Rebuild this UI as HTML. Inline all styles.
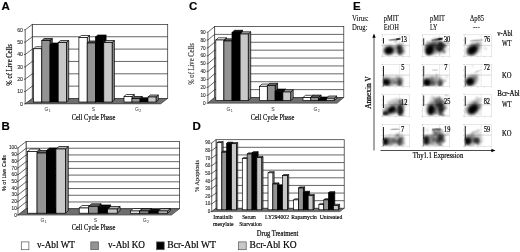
<!DOCTYPE html>
<html><head><meta charset="utf-8"><title>Figure</title>
<style>
html,body{margin:0;padding:0;background:#fff;}
body{width:520px;height:252px;overflow:hidden;font-family:"Liberation Serif",serif;}
svg{display:block}
</style></head><body>
<svg width="520" height="252" viewBox="0 0 520 252">
<rect width="520" height="252" fill="#fff"/>
<filter id="soft" x="0" y="0" width="100%" height="100%" filterUnits="userSpaceOnUse"><feGaussianBlur stdDeviation="0.38"/></filter>
<g filter="url(#soft)">
<rect x="32.3" y="24.4" width="135.4" height="74.1" fill="#fff" stroke="#2a2a2a" stroke-width="0.72"/>
<polygon points="32.3,24.4 25.2,29.8 25.2,103.9 32.3,98.5" fill="#fff" stroke="#2a2a2a" stroke-width="0.72"/>
<polygon points="32.3,98.5 167.7,98.5 160.6,103.9 25.2,103.9" fill="#6e6e6e" stroke="#222" stroke-width="0.5"/>
<line x1="25.2" y1="103.9" x2="24" y2="103.9" stroke="#2a2a2a" stroke-width="0.72"/>
<text x="23" y="105.62" font-family="'Liberation Sans', sans-serif" font-size="5.2" text-anchor="end" font-weight="normal" fill="#111" stroke="#111" stroke-width="0.06" >0</text>
<line x1="32.3" y1="86.15" x2="167.7" y2="86.15" stroke="#2a2a2a" stroke-width="0.72"/>
<line x1="32.3" y1="86.15" x2="25.2" y2="91.55" stroke="#2a2a2a" stroke-width="0.72"/>
<line x1="25.2" y1="91.55" x2="24" y2="91.55" stroke="#2a2a2a" stroke-width="0.72"/>
<text x="23" y="93.27" font-family="'Liberation Sans', sans-serif" font-size="5.2" text-anchor="end" font-weight="normal" fill="#111" stroke="#111" stroke-width="0.06" >10</text>
<line x1="32.3" y1="73.8" x2="167.7" y2="73.8" stroke="#2a2a2a" stroke-width="0.72"/>
<line x1="32.3" y1="73.8" x2="25.2" y2="79.2" stroke="#2a2a2a" stroke-width="0.72"/>
<line x1="25.2" y1="79.2" x2="24" y2="79.2" stroke="#2a2a2a" stroke-width="0.72"/>
<text x="23" y="80.92" font-family="'Liberation Sans', sans-serif" font-size="5.2" text-anchor="end" font-weight="normal" fill="#111" stroke="#111" stroke-width="0.06" >20</text>
<line x1="32.3" y1="61.45" x2="167.7" y2="61.45" stroke="#2a2a2a" stroke-width="0.72"/>
<line x1="32.3" y1="61.45" x2="25.2" y2="66.85" stroke="#2a2a2a" stroke-width="0.72"/>
<line x1="25.2" y1="66.85" x2="24" y2="66.85" stroke="#2a2a2a" stroke-width="0.72"/>
<text x="23" y="68.57" font-family="'Liberation Sans', sans-serif" font-size="5.2" text-anchor="end" font-weight="normal" fill="#111" stroke="#111" stroke-width="0.06" >30</text>
<line x1="32.3" y1="49.1" x2="167.7" y2="49.1" stroke="#2a2a2a" stroke-width="0.72"/>
<line x1="32.3" y1="49.1" x2="25.2" y2="54.5" stroke="#2a2a2a" stroke-width="0.72"/>
<line x1="25.2" y1="54.5" x2="24" y2="54.5" stroke="#2a2a2a" stroke-width="0.72"/>
<text x="23" y="56.22" font-family="'Liberation Sans', sans-serif" font-size="5.2" text-anchor="end" font-weight="normal" fill="#111" stroke="#111" stroke-width="0.06" >40</text>
<line x1="32.3" y1="36.75" x2="167.7" y2="36.75" stroke="#2a2a2a" stroke-width="0.72"/>
<line x1="32.3" y1="36.75" x2="25.2" y2="42.15" stroke="#2a2a2a" stroke-width="0.72"/>
<line x1="25.2" y1="42.15" x2="24" y2="42.15" stroke="#2a2a2a" stroke-width="0.72"/>
<text x="23" y="43.87" font-family="'Liberation Sans', sans-serif" font-size="5.2" text-anchor="end" font-weight="normal" fill="#111" stroke="#111" stroke-width="0.06" >50</text>
<line x1="25.2" y1="29.8" x2="24" y2="29.8" stroke="#2a2a2a" stroke-width="0.72"/>
<text x="23" y="31.52" font-family="'Liberation Sans', sans-serif" font-size="5.2" text-anchor="end" font-weight="normal" fill="#111" stroke="#111" stroke-width="0.06" >60</text>
<polygon points="41.8,48.75 44.1,46.75 44.1,100.0 41.8,102" fill="#bdbdbd" stroke="#000" stroke-width="0.7"/>
<polygon points="33.6,48.75 35.9,46.75 44.1,46.75 41.8,48.75" fill="#ffffff" stroke="#000" stroke-width="0.7"/>
<rect x="33.6" y="48.75" width="8.2" height="53.25" fill="#ffffff" stroke="#000" stroke-width="0.7"/>
<polygon points="50.0,40.5 52.3,38.5 52.3,100.0 50.0,102" fill="#5a5a5a" stroke="#000" stroke-width="0.7"/>
<polygon points="41.8,40.5 44.1,38.5 52.3,38.5 50.0,40.5" fill="#686868" stroke="#000" stroke-width="0.7"/>
<rect x="41.8" y="40.5" width="8.2" height="61.5" fill="#939393" stroke="#000" stroke-width="0.7"/>
<polygon points="58.2,45 60.5,43.0 60.5,100.0 58.2,102" fill="#000000" stroke="#000" stroke-width="0.7"/>
<polygon points="50.0,45 52.3,43.0 60.5,43.0 58.2,45" fill="#0a0a0a" stroke="#000" stroke-width="0.7"/>
<rect x="50.0" y="45" width="8.2" height="57" fill="#000000" stroke="#000" stroke-width="0.7"/>
<polygon points="66.4,42.5 68.7,40.5 68.7,100.0 66.4,102" fill="#8a8a8a" stroke="#000" stroke-width="0.7"/>
<polygon points="58.2,42.5 60.5,40.5 68.7,40.5 66.4,42.5" fill="#b4b4b4" stroke="#000" stroke-width="0.7"/>
<rect x="58.2" y="42.5" width="8.2" height="59.5" fill="#c8c8c8" stroke="#000" stroke-width="0.7"/>
<polygon points="87.2,37.5 89.5,35.5 89.5,100.0 87.2,102" fill="#bdbdbd" stroke="#000" stroke-width="0.7"/>
<polygon points="78.9,37.5 81.2,35.5 89.5,35.5 87.2,37.5" fill="#ffffff" stroke="#000" stroke-width="0.7"/>
<rect x="78.9" y="37.5" width="8.3" height="64.5" fill="#ffffff" stroke="#000" stroke-width="0.7"/>
<polygon points="95.5,43 97.8,41.0 97.8,100.0 95.5,102" fill="#5a5a5a" stroke="#000" stroke-width="0.7"/>
<polygon points="87.2,43 89.5,41.0 97.8,41.0 95.5,43" fill="#686868" stroke="#000" stroke-width="0.7"/>
<rect x="87.2" y="43" width="8.3" height="59" fill="#939393" stroke="#000" stroke-width="0.7"/>
<polygon points="103.8,37 106.1,35.0 106.1,100.0 103.8,102" fill="#000000" stroke="#000" stroke-width="0.7"/>
<polygon points="95.5,37 97.8,35.0 106.1,35.0 103.8,37" fill="#0a0a0a" stroke="#000" stroke-width="0.7"/>
<rect x="95.5" y="37" width="8.3" height="65" fill="#000000" stroke="#000" stroke-width="0.7"/>
<polygon points="112.1,42.5 114.4,40.5 114.4,100.0 112.1,102" fill="#8a8a8a" stroke="#000" stroke-width="0.7"/>
<polygon points="103.8,42.5 106.1,40.5 114.4,40.5 112.1,42.5" fill="#b4b4b4" stroke="#000" stroke-width="0.7"/>
<rect x="103.8" y="42.5" width="8.3" height="59.5" fill="#c8c8c8" stroke="#000" stroke-width="0.7"/>
<polygon points="132.0,96.5 134.3,94.5 134.3,100.0 132.0,102" fill="#bdbdbd" stroke="#000" stroke-width="0.7"/>
<polygon points="124.0,96.5 126.3,94.5 134.3,94.5 132.0,96.5" fill="#ffffff" stroke="#000" stroke-width="0.7"/>
<rect x="124.0" y="96.5" width="8.0" height="5.5" fill="#ffffff" stroke="#000" stroke-width="0.7"/>
<polygon points="140.0,98.5 142.3,96.5 142.3,100.0 140.0,102" fill="#5a5a5a" stroke="#000" stroke-width="0.7"/>
<polygon points="132.0,98.5 134.3,96.5 142.3,96.5 140.0,98.5" fill="#686868" stroke="#000" stroke-width="0.7"/>
<rect x="132.0" y="98.5" width="8.0" height="3.5" fill="#939393" stroke="#000" stroke-width="0.7"/>
<polygon points="148.0,99.7 150.3,97.7 150.3,100.0 148.0,102" fill="#000000" stroke="#000" stroke-width="0.7"/>
<polygon points="140.0,99.7 142.3,97.7 150.3,97.7 148.0,99.7" fill="#0a0a0a" stroke="#000" stroke-width="0.7"/>
<rect x="140.0" y="99.7" width="8.0" height="2.3" fill="#000000" stroke="#000" stroke-width="0.7"/>
<polygon points="156.0,97 158.3,95.0 158.3,100.0 156.0,102" fill="#8a8a8a" stroke="#000" stroke-width="0.7"/>
<polygon points="148.0,97 150.3,95.0 158.3,95.0 156.0,97" fill="#b4b4b4" stroke="#000" stroke-width="0.7"/>
<rect x="148.0" y="97" width="8.0" height="5" fill="#c8c8c8" stroke="#000" stroke-width="0.7"/>
<text x="11.8" y="65" font-family="'Liberation Serif', serif" font-size="7.8" text-anchor="middle" font-weight="normal" fill="#000" textLength="41.5" lengthAdjust="spacingAndGlyphs" transform="rotate(-90 11.8 65)" stroke="#000" stroke-width="0.18" >% of Live Cells</text>
<text x="46.5" y="110.8" font-family="'Liberation Sans', sans-serif" font-size="5" text-anchor="middle" font-weight="normal" fill="#333" stroke="#333" stroke-width="0" >G</text>
<text x="49.7" y="111.8" font-family="'Liberation Sans', sans-serif" font-size="3.5" text-anchor="middle" font-weight="normal" fill="#333" stroke="#333" stroke-width="0" >1</text>
<text x="93.5" y="110.8" font-family="'Liberation Sans', sans-serif" font-size="5" text-anchor="middle" font-weight="normal" fill="#333" stroke="#333" stroke-width="0" >S</text>
<text x="137" y="110.8" font-family="'Liberation Sans', sans-serif" font-size="5" text-anchor="middle" font-weight="normal" fill="#333" stroke="#333" stroke-width="0" >G</text>
<text x="140.2" y="111.8" font-family="'Liberation Sans', sans-serif" font-size="3.5" text-anchor="middle" font-weight="normal" fill="#333" stroke="#333" stroke-width="0" >2</text>
<text x="93.5" y="119.7" font-family="'Liberation Serif', serif" font-size="7.5" text-anchor="middle" font-weight="normal" fill="#000" textLength="43.5" lengthAdjust="spacingAndGlyphs" stroke="#000" stroke-width="0.18" >Cell Cycle Phase</text>
<text x="1.5" y="10.3" font-family="'Liberation Sans', sans-serif" font-size="11.5" text-anchor="start" font-weight="bold" fill="#000" stroke="#000" stroke-width="0.18" >A</text>
<rect x="26.1" y="141.5" width="153.5" height="67.2" fill="#fff" stroke="#2a2a2a" stroke-width="0.72"/>
<polygon points="26.1,141.5 18.0,147.9 18.0,215.1 26.1,208.7" fill="#fff" stroke="#2a2a2a" stroke-width="0.72"/>
<polygon points="26.1,208.7 179.6,208.7 171.5,215.1 18.0,215.1" fill="#6e6e6e" stroke="#222" stroke-width="0.5"/>
<line x1="18.0" y1="215.1" x2="16.8" y2="215.1" stroke="#2a2a2a" stroke-width="0.72"/>
<text x="16.8" y="216.65" font-family="'Liberation Sans', sans-serif" font-size="4.7" text-anchor="end" font-weight="normal" fill="#111" stroke="#111" stroke-width="0.06" >0</text>
<line x1="26.1" y1="201.98" x2="179.6" y2="201.98" stroke="#2a2a2a" stroke-width="0.72"/>
<line x1="26.1" y1="201.98" x2="18.0" y2="208.38" stroke="#2a2a2a" stroke-width="0.72"/>
<line x1="18.0" y1="208.38" x2="16.8" y2="208.38" stroke="#2a2a2a" stroke-width="0.72"/>
<text x="16.8" y="209.93" font-family="'Liberation Sans', sans-serif" font-size="4.7" text-anchor="end" font-weight="normal" fill="#111" stroke="#111" stroke-width="0.06" >10</text>
<line x1="26.1" y1="195.26" x2="179.6" y2="195.26" stroke="#2a2a2a" stroke-width="0.72"/>
<line x1="26.1" y1="195.26" x2="18.0" y2="201.66" stroke="#2a2a2a" stroke-width="0.72"/>
<line x1="18.0" y1="201.66" x2="16.8" y2="201.66" stroke="#2a2a2a" stroke-width="0.72"/>
<text x="16.8" y="203.21" font-family="'Liberation Sans', sans-serif" font-size="4.7" text-anchor="end" font-weight="normal" fill="#111" stroke="#111" stroke-width="0.06" >20</text>
<line x1="26.1" y1="188.54" x2="179.6" y2="188.54" stroke="#2a2a2a" stroke-width="0.72"/>
<line x1="26.1" y1="188.54" x2="18.0" y2="194.94" stroke="#2a2a2a" stroke-width="0.72"/>
<line x1="18.0" y1="194.94" x2="16.8" y2="194.94" stroke="#2a2a2a" stroke-width="0.72"/>
<text x="16.8" y="196.49" font-family="'Liberation Sans', sans-serif" font-size="4.7" text-anchor="end" font-weight="normal" fill="#111" stroke="#111" stroke-width="0.06" >30</text>
<line x1="26.1" y1="181.82" x2="179.6" y2="181.82" stroke="#2a2a2a" stroke-width="0.72"/>
<line x1="26.1" y1="181.82" x2="18.0" y2="188.22" stroke="#2a2a2a" stroke-width="0.72"/>
<line x1="18.0" y1="188.22" x2="16.8" y2="188.22" stroke="#2a2a2a" stroke-width="0.72"/>
<text x="16.8" y="189.77" font-family="'Liberation Sans', sans-serif" font-size="4.7" text-anchor="end" font-weight="normal" fill="#111" stroke="#111" stroke-width="0.06" >40</text>
<line x1="26.1" y1="175.1" x2="179.6" y2="175.1" stroke="#2a2a2a" stroke-width="0.72"/>
<line x1="26.1" y1="175.1" x2="18.0" y2="181.5" stroke="#2a2a2a" stroke-width="0.72"/>
<line x1="18.0" y1="181.5" x2="16.8" y2="181.5" stroke="#2a2a2a" stroke-width="0.72"/>
<text x="16.8" y="183.05" font-family="'Liberation Sans', sans-serif" font-size="4.7" text-anchor="end" font-weight="normal" fill="#111" stroke="#111" stroke-width="0.06" >50</text>
<line x1="26.1" y1="168.38" x2="179.6" y2="168.38" stroke="#2a2a2a" stroke-width="0.72"/>
<line x1="26.1" y1="168.38" x2="18.0" y2="174.78" stroke="#2a2a2a" stroke-width="0.72"/>
<line x1="18.0" y1="174.78" x2="16.8" y2="174.78" stroke="#2a2a2a" stroke-width="0.72"/>
<text x="16.8" y="176.33" font-family="'Liberation Sans', sans-serif" font-size="4.7" text-anchor="end" font-weight="normal" fill="#111" stroke="#111" stroke-width="0.06" >60</text>
<line x1="26.1" y1="161.66" x2="179.6" y2="161.66" stroke="#2a2a2a" stroke-width="0.72"/>
<line x1="26.1" y1="161.66" x2="18.0" y2="168.06" stroke="#2a2a2a" stroke-width="0.72"/>
<line x1="18.0" y1="168.06" x2="16.8" y2="168.06" stroke="#2a2a2a" stroke-width="0.72"/>
<text x="16.8" y="169.61" font-family="'Liberation Sans', sans-serif" font-size="4.7" text-anchor="end" font-weight="normal" fill="#111" stroke="#111" stroke-width="0.06" >70</text>
<line x1="26.1" y1="154.94" x2="179.6" y2="154.94" stroke="#2a2a2a" stroke-width="0.72"/>
<line x1="26.1" y1="154.94" x2="18.0" y2="161.34" stroke="#2a2a2a" stroke-width="0.72"/>
<line x1="18.0" y1="161.34" x2="16.8" y2="161.34" stroke="#2a2a2a" stroke-width="0.72"/>
<text x="16.8" y="162.89" font-family="'Liberation Sans', sans-serif" font-size="4.7" text-anchor="end" font-weight="normal" fill="#111" stroke="#111" stroke-width="0.06" >80</text>
<line x1="26.1" y1="148.22" x2="179.6" y2="148.22" stroke="#2a2a2a" stroke-width="0.72"/>
<line x1="26.1" y1="148.22" x2="18.0" y2="154.62" stroke="#2a2a2a" stroke-width="0.72"/>
<line x1="18.0" y1="154.62" x2="16.8" y2="154.62" stroke="#2a2a2a" stroke-width="0.72"/>
<text x="16.8" y="156.17" font-family="'Liberation Sans', sans-serif" font-size="4.7" text-anchor="end" font-weight="normal" fill="#111" stroke="#111" stroke-width="0.06" >90</text>
<line x1="18.0" y1="147.9" x2="16.8" y2="147.9" stroke="#2a2a2a" stroke-width="0.72"/>
<text x="16.8" y="149.45" font-family="'Liberation Sans', sans-serif" font-size="4.7" text-anchor="end" font-weight="normal" fill="#111" stroke="#111" stroke-width="0.06" >100</text>
<polygon points="37.05,151.5 39.95,149.0 39.95,210.7 37.05,213.2" fill="#bdbdbd" stroke="#000" stroke-width="0.7"/>
<polygon points="27.6,151.5 30.5,149.0 39.95,149.0 37.05,151.5" fill="#ffffff" stroke="#000" stroke-width="0.7"/>
<rect x="27.6" y="151.5" width="9.45" height="61.7" fill="#ffffff" stroke="#000" stroke-width="0.7"/>
<polygon points="46.5,153 49.4,150.5 49.4,210.7 46.5,213.2" fill="#5a5a5a" stroke="#000" stroke-width="0.7"/>
<polygon points="37.05,153 39.95,150.5 49.4,150.5 46.5,153" fill="#686868" stroke="#000" stroke-width="0.7"/>
<rect x="37.05" y="153" width="9.45" height="60.2" fill="#939393" stroke="#000" stroke-width="0.7"/>
<polygon points="55.95,150.5 58.85,148.0 58.85,210.7 55.95,213.2" fill="#000000" stroke="#000" stroke-width="0.7"/>
<polygon points="46.5,150.5 49.4,148.0 58.85,148.0 55.95,150.5" fill="#0a0a0a" stroke="#000" stroke-width="0.7"/>
<rect x="46.5" y="150.5" width="9.45" height="62.7" fill="#000000" stroke="#000" stroke-width="0.7"/>
<polygon points="65.4,149 68.3,146.5 68.3,210.7 65.4,213.2" fill="#8a8a8a" stroke="#000" stroke-width="0.7"/>
<polygon points="55.95,149 58.85,146.5 68.3,146.5 65.4,149" fill="#b4b4b4" stroke="#000" stroke-width="0.7"/>
<rect x="55.95" y="149" width="9.45" height="64.2" fill="#c8c8c8" stroke="#000" stroke-width="0.7"/>
<polygon points="88.7,208 91.6,205.5 91.6,210.7 88.7,213.2" fill="#bdbdbd" stroke="#000" stroke-width="0.7"/>
<polygon points="79.2,208 82.1,205.5 91.6,205.5 88.7,208" fill="#ffffff" stroke="#000" stroke-width="0.7"/>
<rect x="79.2" y="208" width="9.5" height="5.2" fill="#ffffff" stroke="#000" stroke-width="0.7"/>
<polygon points="98.2,206.3 101.1,203.8 101.1,210.7 98.2,213.2" fill="#5a5a5a" stroke="#000" stroke-width="0.7"/>
<polygon points="88.7,206.3 91.6,203.8 101.1,203.8 98.2,206.3" fill="#686868" stroke="#000" stroke-width="0.7"/>
<rect x="88.7" y="206.3" width="9.5" height="6.9" fill="#939393" stroke="#000" stroke-width="0.7"/>
<polygon points="107.7,207.5 110.6,205.0 110.6,210.7 107.7,213.2" fill="#000000" stroke="#000" stroke-width="0.7"/>
<polygon points="98.2,207.5 101.1,205.0 110.6,205.0 107.7,207.5" fill="#0a0a0a" stroke="#000" stroke-width="0.7"/>
<rect x="98.2" y="207.5" width="9.5" height="5.7" fill="#000000" stroke="#000" stroke-width="0.7"/>
<polygon points="117.2,209 120.1,206.5 120.1,210.7 117.2,213.2" fill="#8a8a8a" stroke="#000" stroke-width="0.7"/>
<polygon points="107.7,209 110.6,206.5 120.1,206.5 117.2,209" fill="#b4b4b4" stroke="#000" stroke-width="0.7"/>
<rect x="107.7" y="209" width="9.5" height="4.2" fill="#c8c8c8" stroke="#000" stroke-width="0.7"/>
<polygon points="139.6,211 142.5,208.5 142.5,210.7 139.6,213.2" fill="#bdbdbd" stroke="#000" stroke-width="0.7"/>
<polygon points="130.3,211 133.2,208.5 142.5,208.5 139.6,211" fill="#ffffff" stroke="#000" stroke-width="0.7"/>
<rect x="130.3" y="211" width="9.3" height="2.2" fill="#ffffff" stroke="#000" stroke-width="0.7"/>
<polygon points="148.9,211 151.8,208.5 151.8,210.7 148.9,213.2" fill="#5a5a5a" stroke="#000" stroke-width="0.7"/>
<polygon points="139.6,211 142.5,208.5 151.8,208.5 148.9,211" fill="#686868" stroke="#000" stroke-width="0.7"/>
<rect x="139.6" y="211" width="9.3" height="2.2" fill="#939393" stroke="#000" stroke-width="0.7"/>
<polygon points="158.2,212 161.1,209.5 161.1,210.7 158.2,213.2" fill="#000000" stroke="#000" stroke-width="0.7"/>
<polygon points="148.9,212 151.8,209.5 161.1,209.5 158.2,212" fill="#0a0a0a" stroke="#000" stroke-width="0.7"/>
<rect x="148.9" y="212" width="9.3" height="1.2" fill="#000000" stroke="#000" stroke-width="0.7"/>
<polygon points="167.5,211 170.4,208.5 170.4,210.7 167.5,213.2" fill="#8a8a8a" stroke="#000" stroke-width="0.7"/>
<polygon points="158.2,211 161.1,208.5 170.4,208.5 167.5,211" fill="#b4b4b4" stroke="#000" stroke-width="0.7"/>
<rect x="158.2" y="211" width="9.3" height="2.2" fill="#c8c8c8" stroke="#000" stroke-width="0.7"/>
<text x="6" y="173" font-family="'Liberation Sans', sans-serif" font-size="5.4" text-anchor="middle" font-weight="normal" fill="#000" textLength="36" lengthAdjust="spacingAndGlyphs" transform="rotate(-90 6 173)" stroke="#000" stroke-width="0.1" >% of Live Cells</text>
<text x="42.5" y="221.8" font-family="'Liberation Sans', sans-serif" font-size="5" text-anchor="middle" font-weight="normal" fill="#333" stroke="#333" stroke-width="0" >G</text>
<text x="45.7" y="222.8" font-family="'Liberation Sans', sans-serif" font-size="3.5" text-anchor="middle" font-weight="normal" fill="#333" stroke="#333" stroke-width="0" >1</text>
<text x="95.4" y="221.8" font-family="'Liberation Sans', sans-serif" font-size="5" text-anchor="middle" font-weight="normal" fill="#333" stroke="#333" stroke-width="0" >S</text>
<text x="144.7" y="221.8" font-family="'Liberation Sans', sans-serif" font-size="5" text-anchor="middle" font-weight="normal" fill="#333" stroke="#333" stroke-width="0" >G</text>
<text x="147.9" y="222.8" font-family="'Liberation Sans', sans-serif" font-size="3.5" text-anchor="middle" font-weight="normal" fill="#333" stroke="#333" stroke-width="0" >2</text>
<text x="93.5" y="230" font-family="'Liberation Serif', serif" font-size="7.5" text-anchor="middle" font-weight="normal" fill="#000" textLength="43.5" lengthAdjust="spacingAndGlyphs" stroke="#000" stroke-width="0.18" >Cell Cycle Phase</text>
<text x="1.5" y="130.3" font-family="'Liberation Sans', sans-serif" font-size="11.5" text-anchor="start" font-weight="bold" fill="#000" stroke="#000" stroke-width="0.18" >B</text>
<rect x="214.6" y="26.5" width="129.2" height="71.0" fill="#fff" stroke="#2a2a2a" stroke-width="0.72"/>
<polygon points="214.6,26.5 207.9,32.2 207.9,103.2 214.6,97.5" fill="#fff" stroke="#2a2a2a" stroke-width="0.72"/>
<polygon points="214.6,97.5 343.8,97.5 337.1,103.2 207.9,103.2" fill="#6e6e6e" stroke="#222" stroke-width="0.5"/>
<line x1="207.9" y1="103.2" x2="206.7" y2="103.2" stroke="#2a2a2a" stroke-width="0.72"/>
<text x="205.7" y="104.75" font-family="'Liberation Sans', sans-serif" font-size="4.7" text-anchor="end" font-weight="normal" fill="#111" stroke="#111" stroke-width="0.06" >0</text>
<line x1="214.6" y1="89.61" x2="343.8" y2="89.61" stroke="#2a2a2a" stroke-width="0.72"/>
<line x1="214.6" y1="89.61" x2="207.9" y2="95.31" stroke="#2a2a2a" stroke-width="0.72"/>
<line x1="207.9" y1="95.31" x2="206.7" y2="95.31" stroke="#2a2a2a" stroke-width="0.72"/>
<text x="205.7" y="96.86" font-family="'Liberation Sans', sans-serif" font-size="4.7" text-anchor="end" font-weight="normal" fill="#111" stroke="#111" stroke-width="0.06" >10</text>
<line x1="214.6" y1="81.72" x2="343.8" y2="81.72" stroke="#2a2a2a" stroke-width="0.72"/>
<line x1="214.6" y1="81.72" x2="207.9" y2="87.42" stroke="#2a2a2a" stroke-width="0.72"/>
<line x1="207.9" y1="87.42" x2="206.7" y2="87.42" stroke="#2a2a2a" stroke-width="0.72"/>
<text x="205.7" y="88.97" font-family="'Liberation Sans', sans-serif" font-size="4.7" text-anchor="end" font-weight="normal" fill="#111" stroke="#111" stroke-width="0.06" >20</text>
<line x1="214.6" y1="73.83" x2="343.8" y2="73.83" stroke="#2a2a2a" stroke-width="0.72"/>
<line x1="214.6" y1="73.83" x2="207.9" y2="79.53" stroke="#2a2a2a" stroke-width="0.72"/>
<line x1="207.9" y1="79.53" x2="206.7" y2="79.53" stroke="#2a2a2a" stroke-width="0.72"/>
<text x="205.7" y="81.08" font-family="'Liberation Sans', sans-serif" font-size="4.7" text-anchor="end" font-weight="normal" fill="#111" stroke="#111" stroke-width="0.06" >30</text>
<line x1="214.6" y1="65.94" x2="343.8" y2="65.94" stroke="#2a2a2a" stroke-width="0.72"/>
<line x1="214.6" y1="65.94" x2="207.9" y2="71.64" stroke="#2a2a2a" stroke-width="0.72"/>
<line x1="207.9" y1="71.64" x2="206.7" y2="71.64" stroke="#2a2a2a" stroke-width="0.72"/>
<text x="205.7" y="73.2" font-family="'Liberation Sans', sans-serif" font-size="4.7" text-anchor="end" font-weight="normal" fill="#111" stroke="#111" stroke-width="0.06" >40</text>
<line x1="214.6" y1="58.06" x2="343.8" y2="58.06" stroke="#2a2a2a" stroke-width="0.72"/>
<line x1="214.6" y1="58.06" x2="207.9" y2="63.76" stroke="#2a2a2a" stroke-width="0.72"/>
<line x1="207.9" y1="63.76" x2="206.7" y2="63.76" stroke="#2a2a2a" stroke-width="0.72"/>
<text x="205.7" y="65.31" font-family="'Liberation Sans', sans-serif" font-size="4.7" text-anchor="end" font-weight="normal" fill="#111" stroke="#111" stroke-width="0.06" >50</text>
<line x1="214.6" y1="50.17" x2="343.8" y2="50.17" stroke="#2a2a2a" stroke-width="0.72"/>
<line x1="214.6" y1="50.17" x2="207.9" y2="55.87" stroke="#2a2a2a" stroke-width="0.72"/>
<line x1="207.9" y1="55.87" x2="206.7" y2="55.87" stroke="#2a2a2a" stroke-width="0.72"/>
<text x="205.7" y="57.42" font-family="'Liberation Sans', sans-serif" font-size="4.7" text-anchor="end" font-weight="normal" fill="#111" stroke="#111" stroke-width="0.06" >60</text>
<line x1="214.6" y1="42.28" x2="343.8" y2="42.28" stroke="#2a2a2a" stroke-width="0.72"/>
<line x1="214.6" y1="42.28" x2="207.9" y2="47.98" stroke="#2a2a2a" stroke-width="0.72"/>
<line x1="207.9" y1="47.98" x2="206.7" y2="47.98" stroke="#2a2a2a" stroke-width="0.72"/>
<text x="205.7" y="49.53" font-family="'Liberation Sans', sans-serif" font-size="4.7" text-anchor="end" font-weight="normal" fill="#111" stroke="#111" stroke-width="0.06" >70</text>
<line x1="214.6" y1="34.39" x2="343.8" y2="34.39" stroke="#2a2a2a" stroke-width="0.72"/>
<line x1="214.6" y1="34.39" x2="207.9" y2="40.09" stroke="#2a2a2a" stroke-width="0.72"/>
<line x1="207.9" y1="40.09" x2="206.7" y2="40.09" stroke="#2a2a2a" stroke-width="0.72"/>
<text x="205.7" y="41.64" font-family="'Liberation Sans', sans-serif" font-size="4.7" text-anchor="end" font-weight="normal" fill="#111" stroke="#111" stroke-width="0.06" >80</text>
<line x1="207.9" y1="32.2" x2="206.7" y2="32.2" stroke="#2a2a2a" stroke-width="0.72"/>
<text x="205.7" y="33.75" font-family="'Liberation Sans', sans-serif" font-size="4.7" text-anchor="end" font-weight="normal" fill="#111" stroke="#111" stroke-width="0.06" >90</text>
<polygon points="223.9,40 226.4,37.8 226.4,98.4 223.9,100.6" fill="#bdbdbd" stroke="#000" stroke-width="0.7"/>
<polygon points="215.8,40 218.3,37.8 226.4,37.8 223.9,40" fill="#ffffff" stroke="#000" stroke-width="0.7"/>
<rect x="215.8" y="40" width="8.1" height="60.6" fill="#ffffff" stroke="#000" stroke-width="0.7"/>
<polygon points="232.0,41 234.5,38.8 234.5,98.4 232.0,100.6" fill="#5a5a5a" stroke="#000" stroke-width="0.7"/>
<polygon points="223.9,41 226.4,38.8 234.5,38.8 232.0,41" fill="#686868" stroke="#000" stroke-width="0.7"/>
<rect x="223.9" y="41" width="8.1" height="59.6" fill="#939393" stroke="#000" stroke-width="0.7"/>
<polygon points="240.1,32.5 242.6,30.3 242.6,98.4 240.1,100.6" fill="#000000" stroke="#000" stroke-width="0.7"/>
<polygon points="232.0,32.5 234.5,30.3 242.6,30.3 240.1,32.5" fill="#0a0a0a" stroke="#000" stroke-width="0.7"/>
<rect x="232.0" y="32.5" width="8.1" height="68.1" fill="#000000" stroke="#000" stroke-width="0.7"/>
<polygon points="248.2,34 250.7,31.8 250.7,98.4 248.2,100.6" fill="#8a8a8a" stroke="#000" stroke-width="0.7"/>
<polygon points="240.1,34 242.6,31.8 250.7,31.8 248.2,34" fill="#b4b4b4" stroke="#000" stroke-width="0.7"/>
<rect x="240.1" y="34" width="8.1" height="66.6" fill="#c8c8c8" stroke="#000" stroke-width="0.7"/>
<polygon points="267.3,86.3 269.8,84.1 269.8,98.4 267.3,100.6" fill="#bdbdbd" stroke="#000" stroke-width="0.7"/>
<polygon points="259.5,86.3 262.0,84.1 269.8,84.1 267.3,86.3" fill="#ffffff" stroke="#000" stroke-width="0.7"/>
<rect x="259.5" y="86.3" width="7.8" height="14.3" fill="#ffffff" stroke="#000" stroke-width="0.7"/>
<polygon points="275.1,85.5 277.6,83.3 277.6,98.4 275.1,100.6" fill="#5a5a5a" stroke="#000" stroke-width="0.7"/>
<polygon points="267.3,85.5 269.8,83.3 277.6,83.3 275.1,85.5" fill="#686868" stroke="#000" stroke-width="0.7"/>
<rect x="267.3" y="85.5" width="7.8" height="15.1" fill="#939393" stroke="#000" stroke-width="0.7"/>
<polygon points="282.9,91.3 285.4,89.1 285.4,98.4 282.9,100.6" fill="#000000" stroke="#000" stroke-width="0.7"/>
<polygon points="275.1,91.3 277.6,89.1 285.4,89.1 282.9,91.3" fill="#0a0a0a" stroke="#000" stroke-width="0.7"/>
<rect x="275.1" y="91.3" width="7.8" height="9.3" fill="#000000" stroke="#000" stroke-width="0.7"/>
<polygon points="290.7,92 293.2,89.8 293.2,98.4 290.7,100.6" fill="#8a8a8a" stroke="#000" stroke-width="0.7"/>
<polygon points="282.9,92 285.4,89.8 293.2,89.8 290.7,92" fill="#b4b4b4" stroke="#000" stroke-width="0.7"/>
<rect x="282.9" y="92" width="7.8" height="8.6" fill="#c8c8c8" stroke="#000" stroke-width="0.7"/>
<polygon points="310.8,97.5 313.3,95.3 313.3,98.4 310.8,100.6" fill="#bdbdbd" stroke="#000" stroke-width="0.7"/>
<polygon points="303.0,97.5 305.5,95.3 313.3,95.3 310.8,97.5" fill="#ffffff" stroke="#000" stroke-width="0.7"/>
<rect x="303.0" y="97.5" width="7.8" height="3.1" fill="#ffffff" stroke="#000" stroke-width="0.7"/>
<polygon points="318.6,97.3 321.1,95.1 321.1,98.4 318.6,100.6" fill="#5a5a5a" stroke="#000" stroke-width="0.7"/>
<polygon points="310.8,97.3 313.3,95.1 321.1,95.1 318.6,97.3" fill="#686868" stroke="#000" stroke-width="0.7"/>
<rect x="310.8" y="97.3" width="7.8" height="3.3" fill="#939393" stroke="#000" stroke-width="0.7"/>
<polygon points="326.4,99.2 328.9,97.0 328.9,98.4 326.4,100.6" fill="#000000" stroke="#000" stroke-width="0.7"/>
<polygon points="318.6,99.2 321.1,97.0 328.9,97.0 326.4,99.2" fill="#0a0a0a" stroke="#000" stroke-width="0.7"/>
<rect x="318.6" y="99.2" width="7.8" height="1.4" fill="#000000" stroke="#000" stroke-width="0.7"/>
<polygon points="334.2,98.2 336.7,96.0 336.7,98.4 334.2,100.6" fill="#8a8a8a" stroke="#000" stroke-width="0.7"/>
<polygon points="326.4,98.2 328.9,96.0 336.7,96.0 334.2,98.2" fill="#b4b4b4" stroke="#000" stroke-width="0.7"/>
<rect x="326.4" y="98.2" width="7.8" height="2.4" fill="#c8c8c8" stroke="#000" stroke-width="0.7"/>
<text x="193.6" y="64" font-family="'Liberation Serif', serif" font-size="7.8" text-anchor="middle" font-weight="normal" fill="#444" textLength="41.5" lengthAdjust="spacingAndGlyphs" transform="rotate(-90 193.6 64)" stroke="#444" stroke-width="0.18" >% of Live Cells</text>
<text x="228.5" y="110.8" font-family="'Liberation Sans', sans-serif" font-size="5" text-anchor="middle" font-weight="normal" fill="#333" stroke="#333" stroke-width="0" >G</text>
<text x="231.7" y="111.8" font-family="'Liberation Sans', sans-serif" font-size="3.5" text-anchor="middle" font-weight="normal" fill="#333" stroke="#333" stroke-width="0" >1</text>
<text x="273" y="110.8" font-family="'Liberation Sans', sans-serif" font-size="5" text-anchor="middle" font-weight="normal" fill="#333" stroke="#333" stroke-width="0" >S</text>
<text x="315.5" y="110.8" font-family="'Liberation Sans', sans-serif" font-size="5" text-anchor="middle" font-weight="normal" fill="#333" stroke="#333" stroke-width="0" >G</text>
<text x="318.7" y="111.8" font-family="'Liberation Sans', sans-serif" font-size="3.5" text-anchor="middle" font-weight="normal" fill="#333" stroke="#333" stroke-width="0" >2</text>
<text x="272.5" y="119.7" font-family="'Liberation Serif', serif" font-size="7.5" text-anchor="middle" font-weight="normal" fill="#000" textLength="43.5" lengthAdjust="spacingAndGlyphs" stroke="#000" stroke-width="0.18" >Cell Cycle Phase</text>
<text x="189" y="10.3" font-family="'Liberation Sans', sans-serif" font-size="11.5" text-anchor="start" font-weight="bold" fill="#000" stroke="#000" stroke-width="0.18" >C</text>
<rect x="216" y="139.7" width="128.2" height="68.6" fill="#fff" stroke="#2a2a2a" stroke-width="0.72"/>
<polygon points="216,139.7 211.7,143.0 211.7,211.6 216,208.3" fill="#fff" stroke="#2a2a2a" stroke-width="0.72"/>
<polygon points="216,208.3 344.2,208.3 339.9,211.6 211.7,211.6" fill="#6e6e6e" stroke="#222" stroke-width="0.5"/>
<line x1="211.7" y1="211.6" x2="210.5" y2="211.6" stroke="#2a2a2a" stroke-width="0.72"/>
<text x="210.2" y="213.09" font-family="'Liberation Sans', sans-serif" font-size="4.5" text-anchor="end" font-weight="normal" fill="#111" stroke="#111" stroke-width="0.06" >0</text>
<line x1="216" y1="200.68" x2="344.2" y2="200.68" stroke="#2a2a2a" stroke-width="0.72"/>
<line x1="216" y1="200.68" x2="211.7" y2="203.98" stroke="#2a2a2a" stroke-width="0.72"/>
<line x1="211.7" y1="203.98" x2="210.5" y2="203.98" stroke="#2a2a2a" stroke-width="0.72"/>
<text x="210.2" y="205.46" font-family="'Liberation Sans', sans-serif" font-size="4.5" text-anchor="end" font-weight="normal" fill="#111" stroke="#111" stroke-width="0.06" >10</text>
<line x1="216" y1="193.06" x2="344.2" y2="193.06" stroke="#2a2a2a" stroke-width="0.72"/>
<line x1="216" y1="193.06" x2="211.7" y2="196.36" stroke="#2a2a2a" stroke-width="0.72"/>
<line x1="211.7" y1="196.36" x2="210.5" y2="196.36" stroke="#2a2a2a" stroke-width="0.72"/>
<text x="210.2" y="197.84" font-family="'Liberation Sans', sans-serif" font-size="4.5" text-anchor="end" font-weight="normal" fill="#111" stroke="#111" stroke-width="0.06" >20</text>
<line x1="216" y1="185.43" x2="344.2" y2="185.43" stroke="#2a2a2a" stroke-width="0.72"/>
<line x1="216" y1="185.43" x2="211.7" y2="188.73" stroke="#2a2a2a" stroke-width="0.72"/>
<line x1="211.7" y1="188.73" x2="210.5" y2="188.73" stroke="#2a2a2a" stroke-width="0.72"/>
<text x="210.2" y="190.22" font-family="'Liberation Sans', sans-serif" font-size="4.5" text-anchor="end" font-weight="normal" fill="#111" stroke="#111" stroke-width="0.06" >30</text>
<line x1="216" y1="177.81" x2="344.2" y2="177.81" stroke="#2a2a2a" stroke-width="0.72"/>
<line x1="216" y1="177.81" x2="211.7" y2="181.11" stroke="#2a2a2a" stroke-width="0.72"/>
<line x1="211.7" y1="181.11" x2="210.5" y2="181.11" stroke="#2a2a2a" stroke-width="0.72"/>
<text x="210.2" y="182.6" font-family="'Liberation Sans', sans-serif" font-size="4.5" text-anchor="end" font-weight="normal" fill="#111" stroke="#111" stroke-width="0.06" >40</text>
<line x1="216" y1="170.19" x2="344.2" y2="170.19" stroke="#2a2a2a" stroke-width="0.72"/>
<line x1="216" y1="170.19" x2="211.7" y2="173.49" stroke="#2a2a2a" stroke-width="0.72"/>
<line x1="211.7" y1="173.49" x2="210.5" y2="173.49" stroke="#2a2a2a" stroke-width="0.72"/>
<text x="210.2" y="174.97" font-family="'Liberation Sans', sans-serif" font-size="4.5" text-anchor="end" font-weight="normal" fill="#111" stroke="#111" stroke-width="0.06" >50</text>
<line x1="216" y1="162.57" x2="344.2" y2="162.57" stroke="#2a2a2a" stroke-width="0.72"/>
<line x1="216" y1="162.57" x2="211.7" y2="165.87" stroke="#2a2a2a" stroke-width="0.72"/>
<line x1="211.7" y1="165.87" x2="210.5" y2="165.87" stroke="#2a2a2a" stroke-width="0.72"/>
<text x="210.2" y="167.35" font-family="'Liberation Sans', sans-serif" font-size="4.5" text-anchor="end" font-weight="normal" fill="#111" stroke="#111" stroke-width="0.06" >60</text>
<line x1="216" y1="154.94" x2="344.2" y2="154.94" stroke="#2a2a2a" stroke-width="0.72"/>
<line x1="216" y1="154.94" x2="211.7" y2="158.24" stroke="#2a2a2a" stroke-width="0.72"/>
<line x1="211.7" y1="158.24" x2="210.5" y2="158.24" stroke="#2a2a2a" stroke-width="0.72"/>
<text x="210.2" y="159.73" font-family="'Liberation Sans', sans-serif" font-size="4.5" text-anchor="end" font-weight="normal" fill="#111" stroke="#111" stroke-width="0.06" >70</text>
<line x1="216" y1="147.32" x2="344.2" y2="147.32" stroke="#2a2a2a" stroke-width="0.72"/>
<line x1="216" y1="147.32" x2="211.7" y2="150.62" stroke="#2a2a2a" stroke-width="0.72"/>
<line x1="211.7" y1="150.62" x2="210.5" y2="150.62" stroke="#2a2a2a" stroke-width="0.72"/>
<text x="210.2" y="152.11" font-family="'Liberation Sans', sans-serif" font-size="4.5" text-anchor="end" font-weight="normal" fill="#111" stroke="#111" stroke-width="0.06" >80</text>
<line x1="211.7" y1="143.0" x2="210.5" y2="143.0" stroke="#2a2a2a" stroke-width="0.72"/>
<text x="210.2" y="144.49" font-family="'Liberation Sans', sans-serif" font-size="4.5" text-anchor="end" font-weight="normal" fill="#111" stroke="#111" stroke-width="0.06" >90</text>
<polygon points="221.85,142.7 223.15,141.6 223.15,208.7 221.85,209.8" fill="#bdbdbd" stroke="#000" stroke-width="0.7"/>
<polygon points="217.0,142.7 218.3,141.6 223.15,141.6 221.85,142.7" fill="#ffffff" stroke="#000" stroke-width="0.7"/>
<rect x="217.0" y="142.7" width="4.85" height="67.1" fill="#ffffff" stroke="#000" stroke-width="0.7"/>
<polygon points="226.7,152.2 228.0,151.1 228.0,208.7 226.7,209.8" fill="#5a5a5a" stroke="#000" stroke-width="0.7"/>
<polygon points="221.85,152.2 223.15,151.1 228.0,151.1 226.7,152.2" fill="#686868" stroke="#000" stroke-width="0.7"/>
<rect x="221.85" y="152.2" width="4.85" height="57.6" fill="#939393" stroke="#000" stroke-width="0.7"/>
<polygon points="231.55,143.3 232.85,142.2 232.85,208.7 231.55,209.8" fill="#000000" stroke="#000" stroke-width="0.7"/>
<polygon points="226.7,143.3 228.0,142.2 232.85,142.2 231.55,143.3" fill="#0a0a0a" stroke="#000" stroke-width="0.7"/>
<rect x="226.7" y="143.3" width="4.85" height="66.5" fill="#000000" stroke="#000" stroke-width="0.7"/>
<polygon points="236.4,143.7 237.7,142.6 237.7,208.7 236.4,209.8" fill="#8a8a8a" stroke="#000" stroke-width="0.7"/>
<polygon points="231.55,143.7 232.85,142.6 237.7,142.6 236.4,143.7" fill="#b4b4b4" stroke="#000" stroke-width="0.7"/>
<rect x="231.55" y="143.7" width="4.85" height="66.1" fill="#c8c8c8" stroke="#000" stroke-width="0.7"/>
<polygon points="247.15,158.5 248.45,157.4 248.45,208.7 247.15,209.8" fill="#bdbdbd" stroke="#000" stroke-width="0.7"/>
<polygon points="242.3,158.5 243.6,157.4 248.45,157.4 247.15,158.5" fill="#ffffff" stroke="#000" stroke-width="0.7"/>
<rect x="242.3" y="158.5" width="4.85" height="51.3" fill="#ffffff" stroke="#000" stroke-width="0.7"/>
<polygon points="252.0,154 253.3,152.9 253.3,208.7 252.0,209.8" fill="#5a5a5a" stroke="#000" stroke-width="0.7"/>
<polygon points="247.15,154 248.45,152.9 253.3,152.9 252.0,154" fill="#686868" stroke="#000" stroke-width="0.7"/>
<rect x="247.15" y="154" width="4.85" height="55.8" fill="#939393" stroke="#000" stroke-width="0.7"/>
<polygon points="256.85,152.8 258.15,151.7 258.15,208.7 256.85,209.8" fill="#000000" stroke="#000" stroke-width="0.7"/>
<polygon points="252.0,152.8 253.3,151.7 258.15,151.7 256.85,152.8" fill="#0a0a0a" stroke="#000" stroke-width="0.7"/>
<rect x="252.0" y="152.8" width="4.85" height="57.0" fill="#000000" stroke="#000" stroke-width="0.7"/>
<polygon points="261.7,157.5 263.0,156.4 263.0,208.7 261.7,209.8" fill="#8a8a8a" stroke="#000" stroke-width="0.7"/>
<polygon points="256.85,157.5 258.15,156.4 263.0,156.4 261.7,157.5" fill="#b4b4b4" stroke="#000" stroke-width="0.7"/>
<rect x="256.85" y="157.5" width="4.85" height="52.3" fill="#c8c8c8" stroke="#000" stroke-width="0.7"/>
<polygon points="272.85,172.8 274.15,171.7 274.15,208.7 272.85,209.8" fill="#bdbdbd" stroke="#000" stroke-width="0.7"/>
<polygon points="268.0,172.8 269.3,171.7 274.15,171.7 272.85,172.8" fill="#ffffff" stroke="#000" stroke-width="0.7"/>
<rect x="268.0" y="172.8" width="4.85" height="37.0" fill="#ffffff" stroke="#000" stroke-width="0.7"/>
<polygon points="277.7,184 279.0,182.9 279.0,208.7 277.7,209.8" fill="#5a5a5a" stroke="#000" stroke-width="0.7"/>
<polygon points="272.85,184 274.15,182.9 279.0,182.9 277.7,184" fill="#686868" stroke="#000" stroke-width="0.7"/>
<rect x="272.85" y="184" width="4.85" height="25.8" fill="#939393" stroke="#000" stroke-width="0.7"/>
<polygon points="282.55,185.9 283.85,184.8 283.85,208.7 282.55,209.8" fill="#000000" stroke="#000" stroke-width="0.7"/>
<polygon points="277.7,185.9 279.0,184.8 283.85,184.8 282.55,185.9" fill="#0a0a0a" stroke="#000" stroke-width="0.7"/>
<rect x="277.7" y="185.9" width="4.85" height="23.9" fill="#000000" stroke="#000" stroke-width="0.7"/>
<polygon points="287.4,175.6 288.7,174.5 288.7,208.7 287.4,209.8" fill="#8a8a8a" stroke="#000" stroke-width="0.7"/>
<polygon points="282.55,175.6 283.85,174.5 288.7,174.5 287.4,175.6" fill="#b4b4b4" stroke="#000" stroke-width="0.7"/>
<rect x="282.55" y="175.6" width="4.85" height="34.2" fill="#c8c8c8" stroke="#000" stroke-width="0.7"/>
<polygon points="298.45,199.9 299.75,198.8 299.75,208.7 298.45,209.8" fill="#bdbdbd" stroke="#000" stroke-width="0.7"/>
<polygon points="293.6,199.9 294.9,198.8 299.75,198.8 298.45,199.9" fill="#ffffff" stroke="#000" stroke-width="0.7"/>
<rect x="293.6" y="199.9" width="4.85" height="9.9" fill="#ffffff" stroke="#000" stroke-width="0.7"/>
<polygon points="303.3,188 304.6,186.9 304.6,208.7 303.3,209.8" fill="#5a5a5a" stroke="#000" stroke-width="0.7"/>
<polygon points="298.45,188 299.75,186.9 304.6,186.9 303.3,188" fill="#686868" stroke="#000" stroke-width="0.7"/>
<rect x="298.45" y="188" width="4.85" height="21.8" fill="#939393" stroke="#000" stroke-width="0.7"/>
<polygon points="308.15,192.4 309.45,191.3 309.45,208.7 308.15,209.8" fill="#000000" stroke="#000" stroke-width="0.7"/>
<polygon points="303.3,192.4 304.6,191.3 309.45,191.3 308.15,192.4" fill="#0a0a0a" stroke="#000" stroke-width="0.7"/>
<rect x="303.3" y="192.4" width="4.85" height="17.4" fill="#000000" stroke="#000" stroke-width="0.7"/>
<polygon points="313.0,195.7 314.3,194.6 314.3,208.7 313.0,209.8" fill="#8a8a8a" stroke="#000" stroke-width="0.7"/>
<polygon points="308.15,195.7 309.45,194.6 314.3,194.6 313.0,195.7" fill="#b4b4b4" stroke="#000" stroke-width="0.7"/>
<rect x="308.15" y="195.7" width="4.85" height="14.1" fill="#c8c8c8" stroke="#000" stroke-width="0.7"/>
<polygon points="323.75,204.5 325.05,203.4 325.05,208.7 323.75,209.8" fill="#bdbdbd" stroke="#000" stroke-width="0.7"/>
<polygon points="318.9,204.5 320.2,203.4 325.05,203.4 323.75,204.5" fill="#ffffff" stroke="#000" stroke-width="0.7"/>
<rect x="318.9" y="204.5" width="4.85" height="5.3" fill="#ffffff" stroke="#000" stroke-width="0.7"/>
<polygon points="328.6,199.9 329.9,198.8 329.9,208.7 328.6,209.8" fill="#5a5a5a" stroke="#000" stroke-width="0.7"/>
<polygon points="323.75,199.9 325.05,198.8 329.9,198.8 328.6,199.9" fill="#686868" stroke="#000" stroke-width="0.7"/>
<rect x="323.75" y="199.9" width="4.85" height="9.9" fill="#939393" stroke="#000" stroke-width="0.7"/>
<polygon points="333.45,192.8 334.75,191.7 334.75,208.7 333.45,209.8" fill="#000000" stroke="#000" stroke-width="0.7"/>
<polygon points="328.6,192.8 329.9,191.7 334.75,191.7 333.45,192.8" fill="#0a0a0a" stroke="#000" stroke-width="0.7"/>
<rect x="328.6" y="192.8" width="4.85" height="17.0" fill="#000000" stroke="#000" stroke-width="0.7"/>
<polygon points="338.3,205.4 339.6,204.3 339.6,208.7 338.3,209.8" fill="#8a8a8a" stroke="#000" stroke-width="0.7"/>
<polygon points="333.45,205.4 334.75,204.3 339.6,204.3 338.3,205.4" fill="#b4b4b4" stroke="#000" stroke-width="0.7"/>
<rect x="333.45" y="205.4" width="4.85" height="4.4" fill="#c8c8c8" stroke="#000" stroke-width="0.7"/>
<text x="199.2" y="176" font-family="'Liberation Serif', serif" font-size="7" text-anchor="middle" font-weight="normal" fill="#333" textLength="32" lengthAdjust="spacingAndGlyphs" transform="rotate(-90 199.2 176)" stroke="#333" stroke-width="0.18" >% Apoptosis</text>
<text x="223" y="219" font-family="'Liberation Serif', serif" font-size="7" text-anchor="middle" font-weight="normal" fill="#000" textLength="19.5" lengthAdjust="spacingAndGlyphs" stroke="#000" stroke-width="0.18" >Imatinib</text>
<text x="223.3" y="226.3" font-family="'Liberation Serif', serif" font-size="7" text-anchor="middle" font-weight="normal" fill="#000" textLength="20.5" lengthAdjust="spacingAndGlyphs" stroke="#000" stroke-width="0.18" >mesylate</text>
<text x="249" y="219" font-family="'Liberation Serif', serif" font-size="7" text-anchor="middle" font-weight="normal" fill="#000" textLength="13.5" lengthAdjust="spacingAndGlyphs" stroke="#000" stroke-width="0.18" >Serum</text>
<text x="250.4" y="226.3" font-family="'Liberation Serif', serif" font-size="7" text-anchor="middle" font-weight="normal" fill="#000" textLength="22.5" lengthAdjust="spacingAndGlyphs" stroke="#000" stroke-width="0.18" >Starvation</text>
<text x="277" y="219" font-family="'Liberation Serif', serif" font-size="7" text-anchor="middle" font-weight="normal" fill="#000" textLength="24" lengthAdjust="spacingAndGlyphs" stroke="#000" stroke-width="0.18" >LY294002</text>
<text x="304" y="219" font-family="'Liberation Serif', serif" font-size="7" text-anchor="middle" font-weight="normal" fill="#000" textLength="25.5" lengthAdjust="spacingAndGlyphs" stroke="#000" stroke-width="0.18" >Rapamycin</text>
<text x="331" y="219" font-family="'Liberation Serif', serif" font-size="7" text-anchor="middle" font-weight="normal" fill="#000" textLength="22.5" lengthAdjust="spacingAndGlyphs" stroke="#000" stroke-width="0.18" >Untreated</text>
<text x="277.5" y="235.5" font-family="'Liberation Serif', serif" font-size="7.3" text-anchor="middle" font-weight="normal" fill="#000" textLength="41.5" lengthAdjust="spacingAndGlyphs" stroke="#000" stroke-width="0.18" >Drug Treatment</text>
<text x="192.5" y="129.7" font-family="'Liberation Sans', sans-serif" font-size="11.5" text-anchor="start" font-weight="bold" fill="#000" stroke="#000" stroke-width="0.18" >D</text>
<rect x="21.3" y="241.9" width="7.6" height="7.8" fill="#ffffff" stroke="#555" stroke-width="0.7"/>
<text x="37" y="247.7" font-family="'Liberation Serif', serif" font-size="9.3" text-anchor="start" font-weight="normal" fill="#000" textLength="38" lengthAdjust="spacingAndGlyphs" stroke="#000" stroke-width="0.18" >v-Abl WT</text>
<rect x="90.8" y="241.9" width="7.6" height="7.8" fill="#939393" stroke="#555" stroke-width="0.7"/>
<text x="108" y="247.7" font-family="'Liberation Serif', serif" font-size="9.3" text-anchor="start" font-weight="normal" fill="#000" textLength="37" lengthAdjust="spacingAndGlyphs" stroke="#000" stroke-width="0.18" >v-Abl KO</text>
<rect x="156.6" y="241.9" width="7.6" height="7.8" fill="#000000" stroke="#555" stroke-width="0.7"/>
<text x="167.3" y="247.7" font-family="'Liberation Serif', serif" font-size="9.3" text-anchor="start" font-weight="normal" fill="#000" textLength="48.6" lengthAdjust="spacingAndGlyphs" stroke="#000" stroke-width="0.18" >Bcr-Abl WT</text>
<rect x="238.6" y="241.9" width="7.6" height="7.8" fill="#c8c8c8" stroke="#555" stroke-width="0.7"/>
<text x="249.6" y="247.7" font-family="'Liberation Serif', serif" font-size="9.3" text-anchor="start" font-weight="normal" fill="#000" textLength="47" lengthAdjust="spacingAndGlyphs" stroke="#000" stroke-width="0.18" >Bcr-Abl KO</text>
<text x="353" y="10.3" font-family="'Liberation Sans', sans-serif" font-size="11.5" text-anchor="start" font-weight="bold" fill="#000" stroke="#000" stroke-width="0.18" >E</text>
<text x="352" y="21" font-family="'Liberation Serif', serif" font-size="7.3" text-anchor="start" font-weight="normal" fill="#000" textLength="16.7" lengthAdjust="spacingAndGlyphs" stroke="#000" stroke-width="0.08" >Virus:</text>
<text x="352" y="29.8" font-family="'Liberation Serif', serif" font-size="7.3" text-anchor="start" font-weight="normal" fill="#000" textLength="15.5" lengthAdjust="spacingAndGlyphs" stroke="#000" stroke-width="0.08" >Drug:</text>
<text x="383.8" y="21" font-family="'Liberation Serif', serif" font-size="7.3" text-anchor="start" font-weight="normal" fill="#000" textLength="15" lengthAdjust="spacingAndGlyphs" stroke="#000" stroke-width="0.08" >pMIT</text>
<text x="383.8" y="29.8" font-family="'Liberation Serif', serif" font-size="7.3" text-anchor="start" font-weight="normal" fill="#000" textLength="15.2" lengthAdjust="spacingAndGlyphs" stroke="#000" stroke-width="0.08" >EtOH</text>
<text x="430" y="21" font-family="'Liberation Serif', serif" font-size="7.3" text-anchor="start" font-weight="normal" fill="#000" textLength="15" lengthAdjust="spacingAndGlyphs" stroke="#000" stroke-width="0.08" >pMIT</text>
<text x="430" y="29.8" font-family="'Liberation Serif', serif" font-size="7.3" text-anchor="start" font-weight="normal" fill="#000" textLength="7.5" lengthAdjust="spacingAndGlyphs" stroke="#000" stroke-width="0.08" >LY</text>
<text x="470" y="21" font-family="'Liberation Serif', serif" font-size="7.3" text-anchor="start" font-weight="normal" fill="#000" textLength="14" lengthAdjust="spacingAndGlyphs" stroke="#000" stroke-width="0.08" >Δp85</text>
<text x="473" y="29.8" font-family="'Liberation Serif', serif" font-size="7.3" text-anchor="start" font-weight="normal" fill="#000" textLength="7" lengthAdjust="spacingAndGlyphs" stroke="#000" stroke-width="0.08" >---</text>
<text x="497.3" y="35.5" font-family="'Liberation Serif', serif" font-size="7.5" text-anchor="start" font-weight="normal" fill="#000" textLength="15.2" lengthAdjust="spacingAndGlyphs" stroke="#000" stroke-width="0.18" >v-Abl</text>
<text x="502" y="45.8" font-family="'Liberation Serif', serif" font-size="7.5" text-anchor="start" font-weight="normal" fill="#000" textLength="9.5" lengthAdjust="spacingAndGlyphs" stroke="#000" stroke-width="0.18" >WT</text>
<text x="502" y="77.8" font-family="'Liberation Serif', serif" font-size="7.5" text-anchor="start" font-weight="normal" fill="#000" textLength="9.5" lengthAdjust="spacingAndGlyphs" stroke="#000" stroke-width="0.18" >KO</text>
<text x="497.3" y="96" font-family="'Liberation Serif', serif" font-size="7.5" text-anchor="start" font-weight="normal" fill="#000" textLength="22.5" lengthAdjust="spacingAndGlyphs" stroke="#000" stroke-width="0.18" >Bcr-Abl</text>
<text x="502" y="107" font-family="'Liberation Serif', serif" font-size="7.5" text-anchor="start" font-weight="normal" fill="#000" textLength="9.5" lengthAdjust="spacingAndGlyphs" stroke="#000" stroke-width="0.18" >WT</text>
<text x="502" y="135.5" font-family="'Liberation Serif', serif" font-size="7.5" text-anchor="start" font-weight="normal" fill="#000" textLength="9.5" lengthAdjust="spacingAndGlyphs" stroke="#000" stroke-width="0.18" >KO</text>
<text x="371" y="92.5" font-family="'Liberation Serif', serif" font-size="8.4" text-anchor="middle" font-weight="normal" fill="#000" textLength="32.5" lengthAdjust="spacingAndGlyphs" transform="rotate(-90 371 92.5)" stroke="#000" stroke-width="0.18" >Annexin V</text>
<text x="438" y="158.3" font-family="'Liberation Serif', serif" font-size="8" text-anchor="middle" font-weight="normal" fill="#000" textLength="50.5" lengthAdjust="spacingAndGlyphs" stroke="#000" stroke-width="0.18" >Thy1.1 Expression</text>
<line x1="374" y1="36" x2="374" y2="150.5" stroke="#000" stroke-width="0.7"/>
<polygon points="374,33.5 372.3,37.8 375.7,37.8" fill="#000"/>
<line x1="380.5" y1="150.5" x2="492" y2="150.5" stroke="#000" stroke-width="0.7"/>
<polygon points="495.5,150.5 491.3,148.8 491.3,152.2" fill="#000"/>
<defs>
<filter id="b1" x="-50%" y="-50%" width="200%" height="200%"><feGaussianBlur stdDeviation="1.1"/></filter>
<filter id="b2" x="-50%" y="-50%" width="200%" height="200%"><feGaussianBlur stdDeviation="1.8"/></filter>
<filter id="b0" x="-50%" y="-50%" width="200%" height="200%"><feGaussianBlur stdDeviation="0.5"/></filter>
<filter id="b3" x="-50%" y="-50%" width="200%" height="200%"><feGaussianBlur stdDeviation="0.9"/></filter>
</defs>
<line x1="382.4" y1="45.4" x2="409.5" y2="45.4" stroke="#b0b0b0" stroke-width="0.5"/>
<line x1="399.4" y1="34.8" x2="399.4" y2="56.2" stroke="#d8d8d8" stroke-width="0.5"/>
<clipPath id="cp00"><rect x="382.4" y="34.8" width="27.1" height="21.4"/></clipPath>
<g clip-path="url(#cp00)">
<ellipse cx="389" cy="50.4" rx="4.3" ry="3.7" transform="rotate(-15 389 50.4)" fill="#000" opacity="1" filter="url(#b1)"/>
<ellipse cx="389.5" cy="50.2" rx="6.8" ry="5" transform="rotate(-10 389.5 50.2)" fill="#000" opacity="0.45" filter="url(#b2)"/>
<ellipse cx="399.8" cy="49.7" rx="2.8" ry="4.2" transform="rotate(0 399.8 49.7)" fill="#000" opacity="0.62" filter="url(#b1)"/>
<ellipse cx="400" cy="49.5" rx="4.5" ry="6" transform="rotate(0 400 49.5)" fill="#000" opacity="0.28" filter="url(#b2)"/>
<ellipse cx="394" cy="39.6" rx="6" ry="0.9" transform="rotate(-6 394 39.6)" fill="#000" opacity="0.5" filter="url(#b0)"/>
<ellipse cx="398.3" cy="39.1" rx="2.6" ry="1" transform="rotate(-6 398.3 39.1)" fill="#000" opacity="0.75" filter="url(#b0)"/>
<g opacity="0.75" filter="url(#b3)">
<circle cx="399.2" cy="51.1" r="0.78"/>
<circle cx="402.2" cy="51.2" r="0.63"/>
<circle cx="402.2" cy="50.9" r="0.47"/>
<circle cx="399.0" cy="50.0" r="0.50"/>
<circle cx="396.1" cy="52.2" r="0.51"/>
<circle cx="400.3" cy="53.9" r="0.92"/>
<circle cx="397.8" cy="48.0" r="0.94"/>
<circle cx="404.0" cy="51.3" r="0.59"/>
<circle cx="400.5" cy="50.8" r="0.60"/>
<circle cx="400.4" cy="47.7" r="0.74"/>
<circle cx="398.4" cy="47.1" r="0.72"/>
<circle cx="400.5" cy="49.9" r="0.55"/>
<circle cx="398.8" cy="46.4" r="0.61"/>
<circle cx="397.7" cy="47.7" r="0.60"/>
<circle cx="400.7" cy="44.7" r="0.57"/>
<circle cx="397.4" cy="47.7" r="0.89"/>
<circle cx="399.6" cy="46.9" r="0.94"/>
<circle cx="401.5" cy="51.7" r="0.83"/>
<circle cx="401.3" cy="52.5" r="0.47"/>
<circle cx="398.0" cy="44.8" r="0.74"/>
<circle cx="401.2" cy="47.5" r="0.80"/>
<circle cx="397.4" cy="47.1" r="0.68"/>
<circle cx="402.6" cy="43.0" r="0.69"/>
<circle cx="399.4" cy="48.5" r="0.80"/>
<circle cx="395.6" cy="41.4" r="0.86"/>
<circle cx="399.3" cy="52.6" r="0.78"/>
</g>
<g opacity="0.45" filter="url(#b3)">
<circle cx="399.5" cy="46.7" r="0.50"/>
<circle cx="395.3" cy="46.9" r="0.68"/>
<circle cx="396.6" cy="47.3" r="0.57"/>
<circle cx="395.4" cy="46.1" r="0.58"/>
<circle cx="384.1" cy="45.5" r="0.70"/>
<circle cx="396.7" cy="45.6" r="0.57"/>
<circle cx="387.4" cy="48.9" r="0.74"/>
<circle cx="395.8" cy="47.3" r="0.52"/>
<circle cx="394.6" cy="48.2" r="0.63"/>
<circle cx="394.0" cy="46.6" r="0.58"/>
</g>
<g opacity="0.38" filter="url(#b3)">
<circle cx="401.8" cy="54.4" r="0.74"/>
<circle cx="402.9" cy="49.2" r="0.64"/>
<circle cx="403.6" cy="51.3" r="0.72"/>
<circle cx="405.0" cy="47.0" r="0.69"/>
<circle cx="402.0" cy="53.6" r="0.48"/>
<circle cx="403.4" cy="51.3" r="0.47"/>
<circle cx="404.4" cy="53.4" r="0.55"/>
<circle cx="404.1" cy="52.0" r="0.50"/>
</g>
</g>
<rect x="382.4" y="34.8" width="27.1" height="21.4" fill="none" stroke="#d2d2d2" stroke-width="0.5"/>
<line x1="383.5" y1="38" x2="383.5" y2="43.6" stroke="#111" stroke-width="0.9"/>
<line x1="382.4" y1="56.2" x2="382.4" y2="57.2" stroke="#aaa" stroke-width="0.5"/>
<line x1="381.4" y1="34.8" x2="382.4" y2="34.8" stroke="#aaa" stroke-width="0.5"/>
<line x1="389.17" y1="56.2" x2="389.17" y2="57.2" stroke="#aaa" stroke-width="0.5"/>
<line x1="381.4" y1="40.15" x2="382.4" y2="40.15" stroke="#aaa" stroke-width="0.5"/>
<line x1="395.95" y1="56.2" x2="395.95" y2="57.2" stroke="#aaa" stroke-width="0.5"/>
<line x1="381.4" y1="45.5" x2="382.4" y2="45.5" stroke="#aaa" stroke-width="0.5"/>
<line x1="402.72" y1="56.2" x2="402.72" y2="57.2" stroke="#aaa" stroke-width="0.5"/>
<line x1="381.4" y1="50.85" x2="382.4" y2="50.85" stroke="#aaa" stroke-width="0.5"/>
<line x1="409.5" y1="56.2" x2="409.5" y2="57.2" stroke="#aaa" stroke-width="0.5"/>
<line x1="381.4" y1="56.2" x2="382.4" y2="56.2" stroke="#aaa" stroke-width="0.5"/>
<text x="407" y="42.0" font-family="'Liberation Serif', serif" font-size="7.4" text-anchor="end" font-weight="normal" fill="#000" textLength="6.3" lengthAdjust="spacingAndGlyphs" stroke="#000" stroke-width="0.2">13</text>
<line x1="422.6" y1="45.4" x2="449.7" y2="45.4" stroke="#b0b0b0" stroke-width="0.5"/>
<line x1="439.6" y1="34.8" x2="439.6" y2="56.2" stroke="#d8d8d8" stroke-width="0.5"/>
<clipPath id="cp01"><rect x="422.6" y="34.8" width="27.1" height="21.4"/></clipPath>
<g clip-path="url(#cp01)">
<ellipse cx="429.6" cy="50" rx="3.8" ry="5.4" transform="rotate(25 429.6 50)" fill="#000" opacity="1" filter="url(#b1)"/>
<ellipse cx="431" cy="48.5" rx="6.5" ry="6.5" transform="rotate(-35 431 48.5)" fill="#000" opacity="0.55" filter="url(#b2)"/>
<ellipse cx="440" cy="46.8" rx="3.6" ry="4.6" transform="rotate(0 440 46.8)" fill="#000" opacity="0.7" filter="url(#b1)"/>
<ellipse cx="440" cy="47.5" rx="5.5" ry="6.5" transform="rotate(0 440 47.5)" fill="#000" opacity="0.3" filter="url(#b2)"/>
<ellipse cx="437" cy="39.5" rx="5.5" ry="1" transform="rotate(-8 437 39.5)" fill="#000" opacity="0.55" filter="url(#b0)"/>
<ellipse cx="440.3" cy="38.9" rx="2.8" ry="1.1" transform="rotate(-8 440.3 38.9)" fill="#000" opacity="0.8" filter="url(#b0)"/>
<ellipse cx="435" cy="44" rx="4" ry="2.5" transform="rotate(-35 435 44)" fill="#000" opacity="0.35" filter="url(#b1)"/>
<g opacity="0.83" filter="url(#b3)">
<circle cx="442.1" cy="48.8" r="0.46"/>
<circle cx="442.7" cy="43.3" r="0.53"/>
<circle cx="440.0" cy="50.1" r="0.65"/>
<circle cx="443.9" cy="51.7" r="1.00"/>
<circle cx="436.9" cy="47.7" r="0.50"/>
<circle cx="442.1" cy="48.8" r="0.60"/>
<circle cx="440.8" cy="44.9" r="0.46"/>
<circle cx="443.3" cy="45.5" r="0.53"/>
<circle cx="439.4" cy="46.6" r="0.74"/>
<circle cx="445.5" cy="45.8" r="0.83"/>
<circle cx="439.8" cy="50.2" r="0.54"/>
<circle cx="440.5" cy="42.4" r="0.88"/>
<circle cx="439.0" cy="49.0" r="0.90"/>
<circle cx="445.5" cy="46.1" r="0.89"/>
<circle cx="441.9" cy="41.4" r="0.57"/>
<circle cx="437.4" cy="46.4" r="0.47"/>
<circle cx="442.2" cy="47.3" r="0.59"/>
<circle cx="437.5" cy="38.4" r="0.70"/>
<circle cx="447.7" cy="42.7" r="0.98"/>
<circle cx="438.7" cy="48.7" r="0.57"/>
<circle cx="440.6" cy="49.1" r="0.79"/>
<circle cx="444.3" cy="42.8" r="0.71"/>
<circle cx="437.1" cy="41.5" r="0.50"/>
<circle cx="436.7" cy="40.1" r="0.88"/>
<circle cx="440.0" cy="42.7" r="0.55"/>
<circle cx="440.6" cy="43.7" r="0.89"/>
<circle cx="442.8" cy="46.2" r="0.67"/>
<circle cx="444.2" cy="44.9" r="0.54"/>
<circle cx="441.1" cy="48.3" r="0.95"/>
<circle cx="440.5" cy="44.9" r="0.90"/>
<circle cx="444.1" cy="46.1" r="0.64"/>
<circle cx="438.6" cy="46.2" r="0.46"/>
<circle cx="444.0" cy="45.9" r="0.74"/>
<circle cx="442.7" cy="45.2" r="0.93"/>
<circle cx="440.9" cy="44.6" r="0.59"/>
<circle cx="439.4" cy="49.4" r="0.77"/>
<circle cx="439.8" cy="50.5" r="0.52"/>
<circle cx="442.2" cy="45.0" r="0.70"/>
<circle cx="434.7" cy="42.9" r="0.68"/>
<circle cx="442.9" cy="44.7" r="0.74"/>
</g>
<g opacity="0.68" filter="url(#b3)">
<circle cx="433.9" cy="44.9" r="0.63"/>
<circle cx="434.6" cy="45.2" r="0.77"/>
<circle cx="436.1" cy="48.0" r="0.74"/>
<circle cx="432.0" cy="44.1" r="0.66"/>
<circle cx="429.6" cy="43.2" r="0.49"/>
<circle cx="432.4" cy="44.2" r="0.56"/>
<circle cx="435.0" cy="41.5" r="0.67"/>
<circle cx="434.9" cy="38.4" r="0.63"/>
<circle cx="431.8" cy="42.7" r="0.65"/>
<circle cx="433.3" cy="41.9" r="0.66"/>
<circle cx="427.4" cy="46.0" r="0.73"/>
<circle cx="439.6" cy="40.0" r="0.55"/>
<circle cx="427.8" cy="42.4" r="0.79"/>
<circle cx="435.5" cy="46.2" r="0.63"/>
<circle cx="436.5" cy="46.0" r="0.48"/>
<circle cx="432.0" cy="40.4" r="0.81"/>
<circle cx="437.2" cy="48.9" r="0.71"/>
<circle cx="438.4" cy="49.9" r="0.84"/>
<circle cx="435.9" cy="52.3" r="0.61"/>
<circle cx="425.4" cy="45.7" r="0.78"/>
</g>
<g opacity="0.45" filter="url(#b3)">
<circle cx="445.4" cy="52.7" r="0.60"/>
<circle cx="443.1" cy="51.7" r="0.55"/>
<circle cx="443.9" cy="49.4" r="0.62"/>
<circle cx="443.6" cy="50.2" r="0.55"/>
<circle cx="441.9" cy="47.5" r="0.47"/>
<circle cx="448.4" cy="49.5" r="0.74"/>
<circle cx="445.6" cy="51.4" r="0.46"/>
<circle cx="444.4" cy="47.7" r="0.49"/>
<circle cx="439.1" cy="53.1" r="0.70"/>
<circle cx="443.9" cy="51.7" r="0.73"/>
</g>
</g>
<rect x="422.6" y="34.8" width="27.1" height="21.4" fill="none" stroke="#d2d2d2" stroke-width="0.5"/>
<line x1="423.7" y1="38.3" x2="423.7" y2="45" stroke="#111" stroke-width="0.9"/>
<line x1="422.6" y1="56.2" x2="422.6" y2="57.2" stroke="#aaa" stroke-width="0.5"/>
<line x1="421.6" y1="34.8" x2="422.6" y2="34.8" stroke="#aaa" stroke-width="0.5"/>
<line x1="429.38" y1="56.2" x2="429.38" y2="57.2" stroke="#aaa" stroke-width="0.5"/>
<line x1="421.6" y1="40.15" x2="422.6" y2="40.15" stroke="#aaa" stroke-width="0.5"/>
<line x1="436.15" y1="56.2" x2="436.15" y2="57.2" stroke="#aaa" stroke-width="0.5"/>
<line x1="421.6" y1="45.5" x2="422.6" y2="45.5" stroke="#aaa" stroke-width="0.5"/>
<line x1="442.93" y1="56.2" x2="442.93" y2="57.2" stroke="#aaa" stroke-width="0.5"/>
<line x1="421.6" y1="50.85" x2="422.6" y2="50.85" stroke="#aaa" stroke-width="0.5"/>
<line x1="449.7" y1="56.2" x2="449.7" y2="57.2" stroke="#aaa" stroke-width="0.5"/>
<line x1="421.6" y1="56.2" x2="422.6" y2="56.2" stroke="#aaa" stroke-width="0.5"/>
<text x="450.2" y="41.6" font-family="'Liberation Serif', serif" font-size="7.4" text-anchor="end" font-weight="normal" fill="#000" textLength="6.3" lengthAdjust="spacingAndGlyphs" stroke="#000" stroke-width="0.2">30</text>
<line x1="464.2" y1="45.4" x2="491.3" y2="45.4" stroke="#b0b0b0" stroke-width="0.5"/>
<line x1="481.2" y1="34.8" x2="481.2" y2="56.2" stroke="#d8d8d8" stroke-width="0.5"/>
<clipPath id="cp02"><rect x="464.2" y="34.8" width="27.1" height="21.4"/></clipPath>
<g clip-path="url(#cp02)">
<ellipse cx="472.5" cy="50" rx="5.2" ry="3.7" transform="rotate(-40 472.5 50)" fill="#000" opacity="1" filter="url(#b1)"/>
<ellipse cx="473" cy="49.5" rx="8" ry="5.5" transform="rotate(-40 473 49.5)" fill="#000" opacity="0.5" filter="url(#b2)"/>
<ellipse cx="476.5" cy="40.4" rx="7" ry="0.9" transform="rotate(-5 476.5 40.4)" fill="#000" opacity="0.3" filter="url(#b0)"/>
<ellipse cx="478" cy="44.5" rx="5" ry="2" transform="rotate(-35 478 44.5)" fill="#000" opacity="0.15" filter="url(#b1)"/>
<g opacity="0.38" filter="url(#b3)">
<circle cx="472.4" cy="44.0" r="0.48"/>
<circle cx="483.7" cy="47.6" r="0.58"/>
<circle cx="486.5" cy="49.1" r="0.64"/>
<circle cx="478.5" cy="44.8" r="0.71"/>
<circle cx="485.3" cy="48.4" r="0.59"/>
<circle cx="475.3" cy="49.2" r="0.73"/>
<circle cx="477.8" cy="47.6" r="0.61"/>
<circle cx="478.1" cy="47.4" r="0.50"/>
<circle cx="480.6" cy="46.6" r="0.54"/>
<circle cx="475.7" cy="50.8" r="0.54"/>
<circle cx="475.5" cy="46.0" r="0.55"/>
<circle cx="481.0" cy="46.3" r="0.45"/>
<circle cx="477.5" cy="42.2" r="0.51"/>
<circle cx="468.8" cy="47.1" r="0.48"/>
<circle cx="479.8" cy="43.1" r="0.60"/>
<circle cx="480.0" cy="43.4" r="0.60"/>
</g>
<g opacity="0.45" filter="url(#b3)">
<circle cx="466.6" cy="39.5" r="0.59"/>
<circle cx="475.9" cy="44.6" r="0.70"/>
<circle cx="468.2" cy="52.1" r="0.47"/>
<circle cx="473.3" cy="51.1" r="0.75"/>
<circle cx="471.9" cy="52.4" r="0.48"/>
<circle cx="477.5" cy="43.2" r="0.72"/>
<circle cx="471.3" cy="52.9" r="0.57"/>
<circle cx="469.2" cy="50.6" r="0.63"/>
<circle cx="470.9" cy="60.2" r="0.84"/>
<circle cx="468.4" cy="49.1" r="0.84"/>
<circle cx="470.3" cy="53.5" r="0.45"/>
<circle cx="467.8" cy="53.1" r="0.65"/>
<circle cx="473.8" cy="54.5" r="0.45"/>
<circle cx="471.8" cy="51.7" r="0.61"/>
<circle cx="473.0" cy="50.2" r="0.57"/>
<circle cx="472.7" cy="55.3" r="0.66"/>
<circle cx="472.0" cy="44.1" r="0.74"/>
<circle cx="475.6" cy="47.3" r="0.58"/>
<circle cx="474.8" cy="49.8" r="0.74"/>
<circle cx="471.1" cy="49.1" r="0.78"/>
</g>
</g>
<rect x="464.2" y="34.8" width="27.1" height="21.4" fill="none" stroke="#d2d2d2" stroke-width="0.5"/>
<line x1="465.3" y1="37.2" x2="465.3" y2="44.4" stroke="#111" stroke-width="0.9"/>
<line x1="464.2" y1="56.2" x2="464.2" y2="57.2" stroke="#aaa" stroke-width="0.5"/>
<line x1="463.2" y1="34.8" x2="464.2" y2="34.8" stroke="#aaa" stroke-width="0.5"/>
<line x1="470.97" y1="56.2" x2="470.97" y2="57.2" stroke="#aaa" stroke-width="0.5"/>
<line x1="463.2" y1="40.15" x2="464.2" y2="40.15" stroke="#aaa" stroke-width="0.5"/>
<line x1="477.75" y1="56.2" x2="477.75" y2="57.2" stroke="#aaa" stroke-width="0.5"/>
<line x1="463.2" y1="45.5" x2="464.2" y2="45.5" stroke="#aaa" stroke-width="0.5"/>
<line x1="484.52" y1="56.2" x2="484.52" y2="57.2" stroke="#aaa" stroke-width="0.5"/>
<line x1="463.2" y1="50.85" x2="464.2" y2="50.85" stroke="#aaa" stroke-width="0.5"/>
<line x1="491.3" y1="56.2" x2="491.3" y2="57.2" stroke="#aaa" stroke-width="0.5"/>
<line x1="463.2" y1="56.2" x2="464.2" y2="56.2" stroke="#aaa" stroke-width="0.5"/>
<text x="490.2" y="42.0" font-family="'Liberation Serif', serif" font-size="7.4" text-anchor="end" font-weight="normal" fill="#000" textLength="6.3" lengthAdjust="spacingAndGlyphs" stroke="#000" stroke-width="0.2">76</text>
<line x1="382.4" y1="75.1" x2="409.5" y2="75.1" stroke="#b0b0b0" stroke-width="0.5"/>
<line x1="399.4" y1="64.5" x2="399.4" y2="86.5" stroke="#d8d8d8" stroke-width="0.5"/>
<clipPath id="cp10"><rect x="382.4" y="64.5" width="27.1" height="22"/></clipPath>
<g clip-path="url(#cp10)">
<ellipse cx="386.2" cy="82.3" rx="3.8" ry="3.2" transform="rotate(10 386.2 82.3)" fill="#000" opacity="0.95" filter="url(#b1)"/>
<ellipse cx="388" cy="81.5" rx="7.5" ry="4.8" transform="rotate(10 388 81.5)" fill="#000" opacity="0.42" filter="url(#b2)"/>
<ellipse cx="399.5" cy="83.2" rx="2.4" ry="3.6" transform="rotate(0 399.5 83.2)" fill="#000" opacity="0.5" filter="url(#b1)"/>
<ellipse cx="398" cy="80.5" rx="6" ry="5" transform="rotate(0 398 80.5)" fill="#000" opacity="0.17" filter="url(#b2)"/>
<g opacity="0.6" filter="url(#b3)">
<circle cx="401.9" cy="79.9" r="0.82"/>
<circle cx="400.0" cy="81.0" r="0.71"/>
<circle cx="395.3" cy="82.3" r="0.85"/>
<circle cx="400.8" cy="79.0" r="0.90"/>
<circle cx="398.1" cy="78.3" r="0.56"/>
<circle cx="400.7" cy="82.8" r="0.63"/>
<circle cx="402.8" cy="86.0" r="0.73"/>
<circle cx="397.4" cy="79.5" r="0.79"/>
<circle cx="399.3" cy="82.5" r="0.85"/>
<circle cx="399.5" cy="79.0" r="0.72"/>
<circle cx="399.1" cy="81.6" r="0.82"/>
<circle cx="399.5" cy="83.7" r="0.58"/>
<circle cx="399.3" cy="80.5" r="0.82"/>
<circle cx="402.0" cy="82.0" r="0.64"/>
<circle cx="396.2" cy="83.1" r="0.83"/>
<circle cx="397.2" cy="79.6" r="0.49"/>
<circle cx="400.5" cy="84.3" r="0.82"/>
<circle cx="398.5" cy="86.2" r="0.46"/>
<circle cx="401.1" cy="83.4" r="0.79"/>
<circle cx="398.3" cy="78.3" r="0.60"/>
<circle cx="397.1" cy="82.2" r="0.68"/>
<circle cx="402.9" cy="86.8" r="0.55"/>
</g>
<g opacity="0.45" filter="url(#b3)">
<circle cx="401.3" cy="79.0" r="0.46"/>
<circle cx="384.8" cy="81.4" r="0.84"/>
<circle cx="389.0" cy="80.7" r="0.53"/>
<circle cx="394.6" cy="79.3" r="0.68"/>
<circle cx="395.1" cy="82.8" r="0.83"/>
<circle cx="397.0" cy="84.1" r="0.65"/>
<circle cx="396.7" cy="76.9" r="0.54"/>
<circle cx="395.7" cy="77.9" r="0.46"/>
<circle cx="396.7" cy="80.1" r="0.63"/>
<circle cx="391.3" cy="81.6" r="0.59"/>
<circle cx="388.9" cy="85.3" r="0.45"/>
<circle cx="392.0" cy="74.3" r="0.50"/>
<circle cx="397.7" cy="77.9" r="0.81"/>
<circle cx="391.0" cy="82.8" r="0.61"/>
<circle cx="397.3" cy="80.0" r="0.59"/>
<circle cx="389.1" cy="81.1" r="0.47"/>
<circle cx="398.1" cy="83.4" r="0.56"/>
<circle cx="394.8" cy="79.1" r="0.56"/>
</g>
</g>
<rect x="382.4" y="64.5" width="27.1" height="22" fill="none" stroke="#d2d2d2" stroke-width="0.5"/>
<line x1="383.5" y1="66" x2="383.5" y2="76" stroke="#111" stroke-width="0.9"/>
<line x1="383.5" y1="76" x2="383.5" y2="86.5" stroke="#555" stroke-width="0.8"/>
<line x1="382.4" y1="86.5" x2="382.4" y2="87.5" stroke="#aaa" stroke-width="0.5"/>
<line x1="381.4" y1="64.5" x2="382.4" y2="64.5" stroke="#aaa" stroke-width="0.5"/>
<line x1="389.17" y1="86.5" x2="389.17" y2="87.5" stroke="#aaa" stroke-width="0.5"/>
<line x1="381.4" y1="70.0" x2="382.4" y2="70.0" stroke="#aaa" stroke-width="0.5"/>
<line x1="395.95" y1="86.5" x2="395.95" y2="87.5" stroke="#aaa" stroke-width="0.5"/>
<line x1="381.4" y1="75.5" x2="382.4" y2="75.5" stroke="#aaa" stroke-width="0.5"/>
<line x1="402.72" y1="86.5" x2="402.72" y2="87.5" stroke="#aaa" stroke-width="0.5"/>
<line x1="381.4" y1="81.0" x2="382.4" y2="81.0" stroke="#aaa" stroke-width="0.5"/>
<line x1="409.5" y1="86.5" x2="409.5" y2="87.5" stroke="#aaa" stroke-width="0.5"/>
<line x1="381.4" y1="86.5" x2="382.4" y2="86.5" stroke="#aaa" stroke-width="0.5"/>
<text x="404.4" y="70.1" font-family="'Liberation Serif', serif" font-size="7.4" text-anchor="end" font-weight="normal" fill="#000" textLength="3.2" lengthAdjust="spacingAndGlyphs" stroke="#000" stroke-width="0.2">5</text>
<line x1="422.6" y1="75.1" x2="449.7" y2="75.1" stroke="#b0b0b0" stroke-width="0.5"/>
<line x1="439.6" y1="64.5" x2="439.6" y2="86.5" stroke="#d8d8d8" stroke-width="0.5"/>
<clipPath id="cp11"><rect x="422.6" y="64.5" width="27.1" height="22"/></clipPath>
<g clip-path="url(#cp11)">
<ellipse cx="427" cy="82.6" rx="3.7" ry="3.3" transform="rotate(0 427 82.6)" fill="#000" opacity="1" filter="url(#b1)"/>
<ellipse cx="429" cy="82" rx="7" ry="5" transform="rotate(10 429 82)" fill="#000" opacity="0.45" filter="url(#b2)"/>
<ellipse cx="440" cy="83.2" rx="2.5" ry="3.4" transform="rotate(0 440 83.2)" fill="#000" opacity="0.45" filter="url(#b1)"/>
<ellipse cx="437" cy="80.5" rx="6.5" ry="5" transform="rotate(0 437 80.5)" fill="#000" opacity="0.18" filter="url(#b2)"/>
<ellipse cx="435" cy="70" rx="3.5" ry="0.7" transform="rotate(0 435 70)" fill="#000" opacity="0.18" filter="url(#b0)"/>
<ellipse cx="433" cy="83.5" rx="4" ry="1.6" transform="rotate(15 433 83.5)" fill="#000" opacity="0.3" filter="url(#b1)"/>
<g opacity="0.6" filter="url(#b3)">
<circle cx="438.4" cy="82.4" r="0.64"/>
<circle cx="444.8" cy="80.8" r="0.86"/>
<circle cx="436.4" cy="77.6" r="0.92"/>
<circle cx="436.4" cy="81.0" r="0.47"/>
<circle cx="439.7" cy="79.2" r="0.83"/>
<circle cx="438.8" cy="80.6" r="0.47"/>
<circle cx="441.1" cy="81.8" r="0.69"/>
<circle cx="438.9" cy="84.6" r="0.82"/>
<circle cx="441.8" cy="82.2" r="0.78"/>
<circle cx="439.0" cy="86.1" r="0.65"/>
<circle cx="440.7" cy="84.0" r="0.55"/>
<circle cx="442.3" cy="80.5" r="0.56"/>
<circle cx="446.7" cy="76.9" r="0.67"/>
<circle cx="441.0" cy="84.0" r="0.50"/>
<circle cx="439.4" cy="83.6" r="0.57"/>
<circle cx="439.8" cy="86.4" r="0.89"/>
<circle cx="440.0" cy="79.4" r="0.66"/>
<circle cx="437.7" cy="82.1" r="0.62"/>
<circle cx="441.8" cy="83.4" r="0.93"/>
<circle cx="442.0" cy="85.0" r="0.76"/>
<circle cx="441.1" cy="80.9" r="0.59"/>
<circle cx="440.0" cy="85.5" r="0.67"/>
<circle cx="444.5" cy="80.8" r="0.89"/>
<circle cx="440.6" cy="82.6" r="0.80"/>
</g>
<g opacity="0.45" filter="url(#b3)">
<circle cx="436.6" cy="78.6" r="0.68"/>
<circle cx="437.0" cy="81.0" r="0.82"/>
<circle cx="436.6" cy="74.9" r="0.84"/>
<circle cx="433.0" cy="82.7" r="0.51"/>
<circle cx="427.0" cy="80.3" r="0.83"/>
<circle cx="432.0" cy="76.0" r="0.76"/>
<circle cx="428.1" cy="82.2" r="0.47"/>
<circle cx="433.6" cy="78.5" r="0.82"/>
<circle cx="430.9" cy="78.6" r="0.50"/>
<circle cx="432.9" cy="86.0" r="0.73"/>
<circle cx="434.2" cy="81.9" r="0.66"/>
<circle cx="429.6" cy="79.3" r="0.54"/>
<circle cx="432.5" cy="80.7" r="0.57"/>
<circle cx="423.2" cy="83.2" r="0.71"/>
<circle cx="436.4" cy="78.3" r="0.54"/>
<circle cx="433.2" cy="89.9" r="0.73"/>
<circle cx="432.7" cy="81.7" r="0.65"/>
<circle cx="431.1" cy="77.8" r="0.55"/>
<circle cx="428.5" cy="74.1" r="0.54"/>
<circle cx="436.6" cy="81.7" r="0.62"/>
<circle cx="431.9" cy="78.9" r="0.77"/>
<circle cx="432.7" cy="76.9" r="0.53"/>
</g>
</g>
<rect x="422.6" y="64.5" width="27.1" height="22" fill="none" stroke="#d2d2d2" stroke-width="0.5"/>
<line x1="423.7" y1="66" x2="423.7" y2="76" stroke="#111" stroke-width="0.9"/>
<line x1="423.7" y1="76" x2="423.7" y2="86.5" stroke="#555" stroke-width="0.8"/>
<line x1="422.6" y1="86.5" x2="422.6" y2="87.5" stroke="#aaa" stroke-width="0.5"/>
<line x1="421.6" y1="64.5" x2="422.6" y2="64.5" stroke="#aaa" stroke-width="0.5"/>
<line x1="429.38" y1="86.5" x2="429.38" y2="87.5" stroke="#aaa" stroke-width="0.5"/>
<line x1="421.6" y1="70.0" x2="422.6" y2="70.0" stroke="#aaa" stroke-width="0.5"/>
<line x1="436.15" y1="86.5" x2="436.15" y2="87.5" stroke="#aaa" stroke-width="0.5"/>
<line x1="421.6" y1="75.5" x2="422.6" y2="75.5" stroke="#aaa" stroke-width="0.5"/>
<line x1="442.93" y1="86.5" x2="442.93" y2="87.5" stroke="#aaa" stroke-width="0.5"/>
<line x1="421.6" y1="81.0" x2="422.6" y2="81.0" stroke="#aaa" stroke-width="0.5"/>
<line x1="449.7" y1="86.5" x2="449.7" y2="87.5" stroke="#aaa" stroke-width="0.5"/>
<line x1="421.6" y1="86.5" x2="422.6" y2="86.5" stroke="#aaa" stroke-width="0.5"/>
<text x="447.4" y="69.6" font-family="'Liberation Serif', serif" font-size="7.4" text-anchor="end" font-weight="normal" fill="#000" textLength="3.2" lengthAdjust="spacingAndGlyphs" stroke="#000" stroke-width="0.2">7</text>
<line x1="464.2" y1="75.1" x2="491.3" y2="75.1" stroke="#b0b0b0" stroke-width="0.5"/>
<line x1="481.2" y1="64.5" x2="481.2" y2="86.5" stroke="#d8d8d8" stroke-width="0.5"/>
<clipPath id="cp12"><rect x="464.2" y="64.5" width="27.1" height="22"/></clipPath>
<g clip-path="url(#cp12)">
<ellipse cx="470.1" cy="81.6" rx="3.9" ry="3.6" transform="rotate(-20 470.1 81.6)" fill="#000" opacity="1" filter="url(#b1)"/>
<ellipse cx="471.3" cy="80.6" rx="6.8" ry="5.4" transform="rotate(-35 471.3 80.6)" fill="#000" opacity="0.45" filter="url(#b2)"/>
<ellipse cx="477.5" cy="71.2" rx="4" ry="0.7" transform="rotate(-20 477.5 71.2)" fill="#000" opacity="0.15" filter="url(#b0)"/>
<ellipse cx="476" cy="76" rx="4" ry="2" transform="rotate(-40 476 76)" fill="#000" opacity="0.13" filter="url(#b1)"/>
<g opacity="0.38" filter="url(#b3)">
<circle cx="477.4" cy="77.4" r="0.70"/>
<circle cx="474.3" cy="80.5" r="0.68"/>
<circle cx="471.3" cy="86.3" r="0.60"/>
<circle cx="475.1" cy="80.3" r="0.58"/>
<circle cx="469.1" cy="70.6" r="0.49"/>
<circle cx="471.8" cy="79.5" r="0.74"/>
<circle cx="474.8" cy="78.9" r="0.47"/>
<circle cx="467.3" cy="82.6" r="0.72"/>
<circle cx="472.5" cy="65.9" r="0.73"/>
<circle cx="472.8" cy="80.0" r="0.73"/>
<circle cx="474.0" cy="77.1" r="0.65"/>
<circle cx="471.2" cy="80.3" r="0.55"/>
<circle cx="474.1" cy="78.2" r="0.53"/>
<circle cx="468.1" cy="85.0" r="0.49"/>
<circle cx="476.7" cy="77.5" r="0.56"/>
<circle cx="477.2" cy="72.1" r="0.58"/>
<circle cx="478.3" cy="79.2" r="0.56"/>
<circle cx="476.3" cy="76.9" r="0.56"/>
</g>
</g>
<rect x="464.2" y="64.5" width="27.1" height="22" fill="none" stroke="#d2d2d2" stroke-width="0.5"/>
<line x1="465.3" y1="66" x2="465.3" y2="78" stroke="#111" stroke-width="0.9"/>
<line x1="465.3" y1="78" x2="465.3" y2="86.5" stroke="#555" stroke-width="0.8"/>
<line x1="464.2" y1="86.5" x2="464.2" y2="87.5" stroke="#aaa" stroke-width="0.5"/>
<line x1="463.2" y1="64.5" x2="464.2" y2="64.5" stroke="#aaa" stroke-width="0.5"/>
<line x1="470.97" y1="86.5" x2="470.97" y2="87.5" stroke="#aaa" stroke-width="0.5"/>
<line x1="463.2" y1="70.0" x2="464.2" y2="70.0" stroke="#aaa" stroke-width="0.5"/>
<line x1="477.75" y1="86.5" x2="477.75" y2="87.5" stroke="#aaa" stroke-width="0.5"/>
<line x1="463.2" y1="75.5" x2="464.2" y2="75.5" stroke="#aaa" stroke-width="0.5"/>
<line x1="484.52" y1="86.5" x2="484.52" y2="87.5" stroke="#aaa" stroke-width="0.5"/>
<line x1="463.2" y1="81.0" x2="464.2" y2="81.0" stroke="#aaa" stroke-width="0.5"/>
<line x1="491.3" y1="86.5" x2="491.3" y2="87.5" stroke="#aaa" stroke-width="0.5"/>
<line x1="463.2" y1="86.5" x2="464.2" y2="86.5" stroke="#aaa" stroke-width="0.5"/>
<text x="490" y="69.8" font-family="'Liberation Serif', serif" font-size="7.4" text-anchor="end" font-weight="normal" fill="#000" textLength="6.3" lengthAdjust="spacingAndGlyphs" stroke="#000" stroke-width="0.2">72</text>
<line x1="382.4" y1="104.8" x2="409.5" y2="104.8" stroke="#b0b0b0" stroke-width="0.5"/>
<line x1="399.4" y1="94.2" x2="399.4" y2="116.2" stroke="#d8d8d8" stroke-width="0.5"/>
<clipPath id="cp20"><rect x="382.4" y="94.2" width="27.1" height="22"/></clipPath>
<g clip-path="url(#cp20)">
<ellipse cx="391.6" cy="109.8" rx="4.3" ry="2.8" transform="rotate(-32 391.6 109.8)" fill="#000" opacity="1" filter="url(#b1)"/>
<ellipse cx="385.5" cy="113.3" rx="3.4" ry="2" transform="rotate(-5 385.5 113.3)" fill="#000" opacity="0.9" filter="url(#b1)"/>
<ellipse cx="390" cy="110" rx="7.5" ry="4.6" transform="rotate(-25 390 110)" fill="#000" opacity="0.42" filter="url(#b2)"/>
<ellipse cx="400.6" cy="109.8" rx="2.6" ry="5.2" transform="rotate(0 400.6 109.8)" fill="#000" opacity="0.68" filter="url(#b1)"/>
<ellipse cx="400.3" cy="108.5" rx="4.5" ry="7.5" transform="rotate(0 400.3 108.5)" fill="#000" opacity="0.3" filter="url(#b2)"/>
<ellipse cx="394" cy="102" rx="7" ry="3" transform="rotate(-12 394 102)" fill="#000" opacity="0.2" filter="url(#b1)"/>
<g opacity="0.83" filter="url(#b3)">
<circle cx="401.0" cy="108.9" r="0.68"/>
<circle cx="402.0" cy="102.9" r="0.47"/>
<circle cx="401.4" cy="109.8" r="0.96"/>
<circle cx="400.4" cy="116.5" r="0.94"/>
<circle cx="399.7" cy="112.3" r="0.98"/>
<circle cx="399.3" cy="107.3" r="0.84"/>
<circle cx="399.9" cy="112.6" r="0.45"/>
<circle cx="400.8" cy="100.1" r="0.80"/>
<circle cx="401.1" cy="109.2" r="0.58"/>
<circle cx="395.2" cy="111.1" r="0.97"/>
<circle cx="399.3" cy="111.6" r="0.69"/>
<circle cx="395.6" cy="109.9" r="0.55"/>
<circle cx="401.8" cy="103.0" r="0.90"/>
<circle cx="401.0" cy="103.8" r="0.63"/>
<circle cx="399.7" cy="113.1" r="0.88"/>
<circle cx="401.9" cy="110.8" r="0.86"/>
<circle cx="400.6" cy="111.0" r="0.47"/>
<circle cx="398.8" cy="108.3" r="0.99"/>
<circle cx="405.5" cy="101.2" r="0.60"/>
<circle cx="401.5" cy="110.5" r="0.72"/>
<circle cx="400.0" cy="105.1" r="0.58"/>
<circle cx="397.9" cy="112.4" r="0.82"/>
<circle cx="400.5" cy="101.4" r="0.82"/>
<circle cx="403.7" cy="115.1" r="0.61"/>
<circle cx="398.7" cy="107.8" r="0.86"/>
<circle cx="401.1" cy="112.5" r="0.58"/>
<circle cx="403.2" cy="116.7" r="0.77"/>
<circle cx="399.6" cy="113.2" r="1.00"/>
<circle cx="399.0" cy="109.4" r="0.89"/>
<circle cx="396.7" cy="98.9" r="0.51"/>
<circle cx="396.6" cy="110.7" r="0.91"/>
<circle cx="401.1" cy="108.9" r="0.61"/>
<circle cx="401.6" cy="111.4" r="0.99"/>
<circle cx="396.2" cy="104.7" r="0.65"/>
<circle cx="402.2" cy="106.1" r="0.59"/>
<circle cx="401.5" cy="99.5" r="0.51"/>
<circle cx="398.1" cy="106.2" r="0.57"/>
<circle cx="399.8" cy="111.2" r="0.56"/>
<circle cx="400.5" cy="115.2" r="0.81"/>
<circle cx="400.7" cy="110.1" r="0.63"/>
</g>
<g opacity="0.45" filter="url(#b3)">
<circle cx="392.6" cy="101.8" r="0.57"/>
<circle cx="396.6" cy="108.6" r="0.67"/>
<circle cx="396.1" cy="104.0" r="0.61"/>
<circle cx="387.2" cy="102.2" r="0.49"/>
<circle cx="398.0" cy="107.5" r="0.61"/>
<circle cx="393.1" cy="106.0" r="0.83"/>
<circle cx="391.5" cy="107.1" r="0.59"/>
<circle cx="385.4" cy="106.5" r="0.85"/>
<circle cx="391.8" cy="105.0" r="0.74"/>
<circle cx="394.2" cy="103.8" r="0.81"/>
<circle cx="385.8" cy="106.1" r="0.61"/>
<circle cx="398.1" cy="101.3" r="0.52"/>
<circle cx="400.3" cy="103.9" r="0.71"/>
<circle cx="395.8" cy="102.8" r="0.70"/>
<circle cx="389.9" cy="106.1" r="0.51"/>
<circle cx="392.7" cy="107.1" r="0.82"/>
<circle cx="398.5" cy="105.7" r="0.77"/>
<circle cx="397.2" cy="103.1" r="0.50"/>
<circle cx="406.8" cy="100.6" r="0.64"/>
<circle cx="404.8" cy="105.8" r="0.61"/>
<circle cx="399.7" cy="101.1" r="0.78"/>
<circle cx="398.7" cy="108.0" r="0.54"/>
<circle cx="386.0" cy="106.8" r="0.78"/>
<circle cx="395.4" cy="105.4" r="0.61"/>
<circle cx="389.1" cy="103.2" r="0.50"/>
<circle cx="394.1" cy="108.3" r="0.81"/>
</g>
<g opacity="0.52" filter="url(#b3)">
<circle cx="399.7" cy="112.8" r="0.75"/>
<circle cx="401.6" cy="113.1" r="0.50"/>
<circle cx="392.9" cy="110.2" r="0.70"/>
<circle cx="394.9" cy="114.4" r="0.68"/>
<circle cx="392.1" cy="113.6" r="0.63"/>
<circle cx="395.4" cy="112.2" r="0.70"/>
<circle cx="393.8" cy="112.1" r="0.76"/>
<circle cx="396.6" cy="109.3" r="0.52"/>
<circle cx="394.6" cy="112.2" r="0.50"/>
<circle cx="394.8" cy="112.5" r="0.63"/>
<circle cx="395.1" cy="112.0" r="0.70"/>
<circle cx="400.2" cy="114.0" r="0.76"/>
<circle cx="395.0" cy="111.9" r="0.65"/>
<circle cx="390.7" cy="116.3" r="0.50"/>
</g>
</g>
<rect x="382.4" y="94.2" width="27.1" height="22" fill="none" stroke="#d2d2d2" stroke-width="0.5"/>
<line x1="383.5" y1="95.5" x2="383.5" y2="108" stroke="#111" stroke-width="0.9"/>
<line x1="382.4" y1="116.2" x2="382.4" y2="117.2" stroke="#aaa" stroke-width="0.5"/>
<line x1="381.4" y1="94.2" x2="382.4" y2="94.2" stroke="#aaa" stroke-width="0.5"/>
<line x1="389.17" y1="116.2" x2="389.17" y2="117.2" stroke="#aaa" stroke-width="0.5"/>
<line x1="381.4" y1="99.7" x2="382.4" y2="99.7" stroke="#aaa" stroke-width="0.5"/>
<line x1="395.95" y1="116.2" x2="395.95" y2="117.2" stroke="#aaa" stroke-width="0.5"/>
<line x1="381.4" y1="105.2" x2="382.4" y2="105.2" stroke="#aaa" stroke-width="0.5"/>
<line x1="402.72" y1="116.2" x2="402.72" y2="117.2" stroke="#aaa" stroke-width="0.5"/>
<line x1="381.4" y1="110.7" x2="382.4" y2="110.7" stroke="#aaa" stroke-width="0.5"/>
<line x1="409.5" y1="116.2" x2="409.5" y2="117.2" stroke="#aaa" stroke-width="0.5"/>
<line x1="381.4" y1="116.2" x2="382.4" y2="116.2" stroke="#aaa" stroke-width="0.5"/>
<text x="407.3" y="104.6" font-family="'Liberation Serif', serif" font-size="7.4" text-anchor="end" font-weight="normal" fill="#000" textLength="6.3" lengthAdjust="spacingAndGlyphs" stroke="#000" stroke-width="0.2">12</text>
<line x1="422.6" y1="104.8" x2="449.7" y2="104.8" stroke="#b0b0b0" stroke-width="0.5"/>
<line x1="439.6" y1="94.2" x2="439.6" y2="116.2" stroke="#d8d8d8" stroke-width="0.5"/>
<clipPath id="cp21"><rect x="422.6" y="94.2" width="27.1" height="22"/></clipPath>
<g clip-path="url(#cp21)">
<ellipse cx="431.1" cy="109.8" rx="3.1" ry="4.9" transform="rotate(8 431.1 109.8)" fill="#000" opacity="1" filter="url(#b1)"/>
<ellipse cx="431.3" cy="109.3" rx="5.3" ry="6.5" transform="rotate(0 431.3 109.3)" fill="#000" opacity="0.45" filter="url(#b2)"/>
<ellipse cx="440.6" cy="108.2" rx="3.2" ry="5.6" transform="rotate(0 440.6 108.2)" fill="#000" opacity="0.6" filter="url(#b1)"/>
<ellipse cx="440" cy="106.5" rx="5.5" ry="8" transform="rotate(0 440 106.5)" fill="#000" opacity="0.33" filter="url(#b2)"/>
<ellipse cx="436" cy="101.5" rx="7" ry="3" transform="rotate(-10 436 101.5)" fill="#000" opacity="0.3" filter="url(#b1)"/>
<g opacity="0.83" filter="url(#b3)">
<circle cx="446.4" cy="94.5" r="0.89"/>
<circle cx="441.3" cy="104.5" r="1.04"/>
<circle cx="433.6" cy="108.1" r="1.00"/>
<circle cx="443.1" cy="115.1" r="1.01"/>
<circle cx="443.0" cy="109.4" r="0.90"/>
<circle cx="443.8" cy="116.4" r="0.61"/>
<circle cx="441.2" cy="104.9" r="0.75"/>
<circle cx="442.3" cy="105.9" r="0.61"/>
<circle cx="438.1" cy="107.3" r="0.47"/>
<circle cx="441.3" cy="110.2" r="1.01"/>
<circle cx="438.1" cy="97.9" r="0.55"/>
<circle cx="440.9" cy="105.1" r="0.77"/>
<circle cx="438.9" cy="103.9" r="0.97"/>
<circle cx="437.1" cy="105.3" r="0.98"/>
<circle cx="447.6" cy="117.1" r="0.83"/>
<circle cx="436.7" cy="113.0" r="0.61"/>
<circle cx="444.3" cy="107.1" r="0.67"/>
<circle cx="440.9" cy="102.1" r="0.56"/>
<circle cx="440.6" cy="105.9" r="0.94"/>
<circle cx="440.5" cy="114.6" r="1.04"/>
<circle cx="437.1" cy="103.7" r="0.64"/>
<circle cx="441.3" cy="107.5" r="0.54"/>
<circle cx="438.4" cy="104.0" r="0.76"/>
<circle cx="441.8" cy="105.9" r="0.59"/>
<circle cx="440.3" cy="106.6" r="0.45"/>
<circle cx="439.8" cy="109.4" r="0.66"/>
<circle cx="441.2" cy="114.0" r="0.80"/>
<circle cx="441.7" cy="114.2" r="0.73"/>
<circle cx="445.0" cy="116.3" r="0.60"/>
<circle cx="441.3" cy="109.3" r="0.83"/>
<circle cx="444.0" cy="101.2" r="0.69"/>
<circle cx="440.6" cy="108.3" r="0.84"/>
<circle cx="438.2" cy="105.7" r="0.84"/>
<circle cx="434.4" cy="111.6" r="0.89"/>
<circle cx="440.7" cy="118.3" r="0.48"/>
<circle cx="437.8" cy="106.5" r="0.59"/>
<circle cx="445.1" cy="110.6" r="0.46"/>
<circle cx="434.3" cy="103.8" r="0.54"/>
<circle cx="441.8" cy="114.0" r="0.75"/>
<circle cx="437.4" cy="100.4" r="0.55"/>
<circle cx="439.7" cy="111.4" r="0.48"/>
<circle cx="444.4" cy="101.9" r="0.88"/>
<circle cx="446.0" cy="107.9" r="0.90"/>
<circle cx="436.1" cy="109.3" r="0.72"/>
<circle cx="440.8" cy="109.8" r="0.59"/>
<circle cx="443.1" cy="108.6" r="0.90"/>
<circle cx="438.8" cy="98.4" r="0.88"/>
<circle cx="440.2" cy="113.8" r="0.71"/>
<circle cx="441.4" cy="101.6" r="0.61"/>
<circle cx="436.0" cy="97.4" r="0.58"/>
</g>
<g opacity="0.52" filter="url(#b3)">
<circle cx="436.1" cy="101.6" r="0.55"/>
<circle cx="436.2" cy="106.9" r="0.83"/>
<circle cx="435.4" cy="99.3" r="0.80"/>
<circle cx="433.7" cy="104.0" r="0.81"/>
<circle cx="430.3" cy="98.6" r="0.72"/>
<circle cx="441.1" cy="101.6" r="0.79"/>
<circle cx="432.3" cy="96.4" r="0.62"/>
<circle cx="434.5" cy="98.2" r="0.57"/>
<circle cx="437.2" cy="106.1" r="0.48"/>
<circle cx="437.9" cy="101.1" r="0.46"/>
<circle cx="444.5" cy="106.3" r="0.59"/>
<circle cx="436.3" cy="102.6" r="0.47"/>
<circle cx="433.0" cy="98.0" r="0.73"/>
<circle cx="435.3" cy="100.9" r="0.69"/>
<circle cx="429.5" cy="106.2" r="0.78"/>
<circle cx="436.9" cy="101.3" r="0.80"/>
<circle cx="445.8" cy="98.3" r="0.49"/>
<circle cx="436.2" cy="103.4" r="0.46"/>
<circle cx="440.8" cy="97.5" r="0.70"/>
<circle cx="438.7" cy="98.2" r="0.56"/>
<circle cx="437.3" cy="102.8" r="0.75"/>
<circle cx="436.7" cy="104.5" r="0.62"/>
<circle cx="439.3" cy="102.3" r="0.56"/>
<circle cx="434.5" cy="99.2" r="0.58"/>
<circle cx="441.3" cy="101.2" r="0.79"/>
<circle cx="434.6" cy="101.5" r="0.62"/>
<circle cx="427.6" cy="104.0" r="0.59"/>
<circle cx="433.8" cy="98.4" r="0.54"/>
<circle cx="436.9" cy="101.0" r="0.78"/>
<circle cx="435.6" cy="102.1" r="0.53"/>
</g>
<g opacity="0.52" filter="url(#b3)">
<circle cx="436.4" cy="99.0" r="0.45"/>
<circle cx="433.7" cy="110.3" r="0.77"/>
<circle cx="436.9" cy="114.3" r="0.59"/>
<circle cx="436.8" cy="107.3" r="0.83"/>
<circle cx="435.7" cy="112.7" r="0.73"/>
<circle cx="435.0" cy="110.0" r="0.70"/>
<circle cx="439.1" cy="113.4" r="0.73"/>
<circle cx="436.6" cy="104.5" r="0.59"/>
<circle cx="434.4" cy="112.3" r="0.81"/>
<circle cx="439.6" cy="114.3" r="0.46"/>
<circle cx="436.4" cy="113.0" r="0.81"/>
<circle cx="434.0" cy="110.0" r="0.80"/>
</g>
</g>
<rect x="422.6" y="94.2" width="27.1" height="22" fill="none" stroke="#d2d2d2" stroke-width="0.5"/>
<line x1="423.7" y1="95.5" x2="423.7" y2="106" stroke="#111" stroke-width="0.9"/>
<line x1="422.6" y1="116.2" x2="422.6" y2="117.2" stroke="#aaa" stroke-width="0.5"/>
<line x1="421.6" y1="94.2" x2="422.6" y2="94.2" stroke="#aaa" stroke-width="0.5"/>
<line x1="429.38" y1="116.2" x2="429.38" y2="117.2" stroke="#aaa" stroke-width="0.5"/>
<line x1="421.6" y1="99.7" x2="422.6" y2="99.7" stroke="#aaa" stroke-width="0.5"/>
<line x1="436.15" y1="116.2" x2="436.15" y2="117.2" stroke="#aaa" stroke-width="0.5"/>
<line x1="421.6" y1="105.2" x2="422.6" y2="105.2" stroke="#aaa" stroke-width="0.5"/>
<line x1="442.93" y1="116.2" x2="442.93" y2="117.2" stroke="#aaa" stroke-width="0.5"/>
<line x1="421.6" y1="110.7" x2="422.6" y2="110.7" stroke="#aaa" stroke-width="0.5"/>
<line x1="449.7" y1="116.2" x2="449.7" y2="117.2" stroke="#aaa" stroke-width="0.5"/>
<line x1="421.6" y1="116.2" x2="422.6" y2="116.2" stroke="#aaa" stroke-width="0.5"/>
<text x="450.3" y="104.0" font-family="'Liberation Serif', serif" font-size="7.4" text-anchor="end" font-weight="normal" fill="#000" textLength="6.3" lengthAdjust="spacingAndGlyphs" stroke="#000" stroke-width="0.2">25</text>
<line x1="464.2" y1="104.8" x2="491.3" y2="104.8" stroke="#b0b0b0" stroke-width="0.5"/>
<line x1="481.2" y1="94.2" x2="481.2" y2="116.2" stroke="#d8d8d8" stroke-width="0.5"/>
<clipPath id="cp22"><rect x="464.2" y="94.2" width="27.1" height="22"/></clipPath>
<g clip-path="url(#cp22)">
<ellipse cx="472.9" cy="109.2" rx="5.3" ry="3.8" transform="rotate(-40 472.9 109.2)" fill="#000" opacity="1" filter="url(#b1)"/>
<ellipse cx="473.5" cy="108.5" rx="8" ry="5.6" transform="rotate(-40 473.5 108.5)" fill="#000" opacity="0.52" filter="url(#b2)"/>
<ellipse cx="476" cy="101" rx="6" ry="2.2" transform="rotate(-20 476 101)" fill="#000" opacity="0.18" filter="url(#b1)"/>
<g opacity="0.42" filter="url(#b3)">
<circle cx="477.5" cy="106.8" r="0.61"/>
<circle cx="477.2" cy="98.5" r="0.64"/>
<circle cx="474.7" cy="105.7" r="0.50"/>
<circle cx="480.7" cy="99.8" r="0.67"/>
<circle cx="479.3" cy="106.3" r="0.68"/>
<circle cx="474.9" cy="102.8" r="0.59"/>
<circle cx="479.5" cy="102.0" r="0.51"/>
<circle cx="474.8" cy="107.9" r="0.70"/>
<circle cx="478.5" cy="104.9" r="0.52"/>
<circle cx="474.5" cy="106.7" r="0.50"/>
<circle cx="475.6" cy="105.2" r="0.74"/>
<circle cx="476.7" cy="102.1" r="0.74"/>
<circle cx="480.6" cy="105.3" r="0.75"/>
<circle cx="479.0" cy="98.8" r="0.58"/>
<circle cx="479.1" cy="107.5" r="0.48"/>
<circle cx="478.2" cy="106.4" r="0.46"/>
<circle cx="470.6" cy="106.6" r="0.66"/>
<circle cx="470.6" cy="103.5" r="0.59"/>
<circle cx="480.8" cy="106.7" r="0.57"/>
<circle cx="476.4" cy="97.0" r="0.58"/>
<circle cx="470.3" cy="101.3" r="0.58"/>
<circle cx="478.0" cy="108.3" r="0.71"/>
</g>
<g opacity="0.45" filter="url(#b3)">
<circle cx="474.3" cy="102.9" r="0.79"/>
<circle cx="469.6" cy="103.8" r="0.63"/>
<circle cx="470.0" cy="114.2" r="0.49"/>
<circle cx="464.6" cy="112.4" r="0.74"/>
<circle cx="470.1" cy="106.8" r="0.62"/>
<circle cx="465.6" cy="110.5" r="0.61"/>
<circle cx="467.3" cy="100.8" r="0.52"/>
<circle cx="467.6" cy="103.3" r="0.61"/>
<circle cx="458.1" cy="109.7" r="0.47"/>
<circle cx="469.9" cy="108.4" r="0.76"/>
<circle cx="479.2" cy="107.2" r="0.49"/>
<circle cx="466.9" cy="106.7" r="0.74"/>
<circle cx="465.2" cy="108.6" r="0.78"/>
<circle cx="467.4" cy="108.4" r="0.83"/>
<circle cx="475.1" cy="114.9" r="0.61"/>
<circle cx="473.2" cy="107.0" r="0.84"/>
<circle cx="471.8" cy="110.1" r="0.56"/>
<circle cx="472.3" cy="109.4" r="0.62"/>
<circle cx="465.5" cy="112.0" r="0.59"/>
<circle cx="472.6" cy="111.8" r="0.75"/>
<circle cx="479.3" cy="107.2" r="0.54"/>
<circle cx="474.7" cy="105.2" r="0.53"/>
<circle cx="479.5" cy="114.0" r="0.77"/>
<circle cx="468.9" cy="105.6" r="0.67"/>
</g>
</g>
<rect x="464.2" y="94.2" width="27.1" height="22" fill="none" stroke="#d2d2d2" stroke-width="0.5"/>
<line x1="465.3" y1="96" x2="465.3" y2="106" stroke="#111" stroke-width="0.9"/>
<line x1="464.2" y1="116.2" x2="464.2" y2="117.2" stroke="#aaa" stroke-width="0.5"/>
<line x1="463.2" y1="94.2" x2="464.2" y2="94.2" stroke="#aaa" stroke-width="0.5"/>
<line x1="470.97" y1="116.2" x2="470.97" y2="117.2" stroke="#aaa" stroke-width="0.5"/>
<line x1="463.2" y1="99.7" x2="464.2" y2="99.7" stroke="#aaa" stroke-width="0.5"/>
<line x1="477.75" y1="116.2" x2="477.75" y2="117.2" stroke="#aaa" stroke-width="0.5"/>
<line x1="463.2" y1="105.2" x2="464.2" y2="105.2" stroke="#aaa" stroke-width="0.5"/>
<line x1="484.52" y1="116.2" x2="484.52" y2="117.2" stroke="#aaa" stroke-width="0.5"/>
<line x1="463.2" y1="110.7" x2="464.2" y2="110.7" stroke="#aaa" stroke-width="0.5"/>
<line x1="491.3" y1="116.2" x2="491.3" y2="117.2" stroke="#aaa" stroke-width="0.5"/>
<line x1="463.2" y1="116.2" x2="464.2" y2="116.2" stroke="#aaa" stroke-width="0.5"/>
<text x="490" y="104.0" font-family="'Liberation Serif', serif" font-size="7.4" text-anchor="end" font-weight="normal" fill="#000" textLength="6.3" lengthAdjust="spacingAndGlyphs" stroke="#000" stroke-width="0.2">82</text>
<line x1="382.4" y1="135.1" x2="409.5" y2="135.1" stroke="#b0b0b0" stroke-width="0.5"/>
<line x1="399.4" y1="124.5" x2="399.4" y2="146.2" stroke="#d8d8d8" stroke-width="0.5"/>
<clipPath id="cp30"><rect x="382.4" y="124.5" width="27.1" height="21.7"/></clipPath>
<g clip-path="url(#cp30)">
<ellipse cx="385.4" cy="141.6" rx="3" ry="3.6" transform="rotate(0 385.4 141.6)" fill="#000" opacity="0.9" filter="url(#b1)"/>
<ellipse cx="389" cy="141.3" rx="8" ry="4.2" transform="rotate(0 389 141.3)" fill="#000" opacity="0.45" filter="url(#b2)"/>
<ellipse cx="400" cy="141.8" rx="2.5" ry="4.4" transform="rotate(0 400 141.8)" fill="#000" opacity="0.5" filter="url(#b1)"/>
<ellipse cx="398.5" cy="139.5" rx="6" ry="5.5" transform="rotate(0 398.5 139.5)" fill="#000" opacity="0.2" filter="url(#b2)"/>
<ellipse cx="395" cy="129.2" rx="5" ry="0.8" transform="rotate(-3 395 129.2)" fill="#000" opacity="0.32" filter="url(#b0)"/>
<g opacity="0.63" filter="url(#b3)">
<circle cx="400.9" cy="150.2" r="0.63"/>
<circle cx="397.4" cy="135.9" r="0.86"/>
<circle cx="398.2" cy="141.6" r="0.72"/>
<circle cx="402.9" cy="145.8" r="0.63"/>
<circle cx="401.0" cy="138.7" r="0.64"/>
<circle cx="399.9" cy="144.8" r="0.54"/>
<circle cx="403.5" cy="141.1" r="0.59"/>
<circle cx="400.1" cy="144.1" r="0.69"/>
<circle cx="397.2" cy="143.2" r="0.78"/>
<circle cx="396.7" cy="147.3" r="0.88"/>
<circle cx="403.9" cy="143.4" r="0.90"/>
<circle cx="400.3" cy="139.1" r="0.87"/>
<circle cx="399.7" cy="140.5" r="0.46"/>
<circle cx="403.1" cy="139.4" r="0.58"/>
<circle cx="401.0" cy="142.2" r="0.57"/>
<circle cx="400.3" cy="137.7" r="0.53"/>
<circle cx="403.2" cy="137.4" r="0.53"/>
<circle cx="402.3" cy="137.9" r="0.84"/>
<circle cx="397.7" cy="134.4" r="0.84"/>
<circle cx="400.8" cy="139.0" r="0.80"/>
<circle cx="396.4" cy="139.9" r="0.67"/>
<circle cx="402.1" cy="137.9" r="0.58"/>
<circle cx="400.1" cy="143.0" r="0.70"/>
<circle cx="402.3" cy="142.5" r="0.52"/>
<circle cx="397.4" cy="141.2" r="0.72"/>
<circle cx="400.2" cy="140.7" r="0.87"/>
</g>
<g opacity="0.45" filter="url(#b3)">
<circle cx="388.6" cy="142.3" r="0.72"/>
<circle cx="394.8" cy="139.0" r="0.62"/>
<circle cx="394.3" cy="141.2" r="0.70"/>
<circle cx="392.4" cy="141.0" r="0.69"/>
<circle cx="389.7" cy="135.2" r="0.58"/>
<circle cx="397.2" cy="141.1" r="0.64"/>
<circle cx="393.7" cy="141.0" r="0.74"/>
<circle cx="390.8" cy="139.6" r="0.79"/>
<circle cx="390.4" cy="144.0" r="0.66"/>
<circle cx="393.3" cy="139.5" r="0.62"/>
<circle cx="389.1" cy="143.3" r="0.78"/>
<circle cx="391.3" cy="146.9" r="0.61"/>
<circle cx="390.2" cy="141.4" r="0.65"/>
<circle cx="398.0" cy="140.8" r="0.77"/>
<circle cx="391.5" cy="143.8" r="0.57"/>
<circle cx="388.7" cy="139.3" r="0.76"/>
<circle cx="398.4" cy="142.7" r="0.80"/>
<circle cx="391.9" cy="141.2" r="0.57"/>
<circle cx="395.3" cy="141.6" r="0.82"/>
<circle cx="389.0" cy="138.7" r="0.77"/>
</g>
<g opacity="0.3" filter="url(#b3)">
<circle cx="401.8" cy="134.5" r="0.64"/>
<circle cx="390.6" cy="133.8" r="0.63"/>
<circle cx="394.5" cy="134.7" r="0.65"/>
<circle cx="387.8" cy="136.9" r="0.48"/>
<circle cx="396.6" cy="136.5" r="0.68"/>
<circle cx="402.3" cy="134.5" r="0.56"/>
<circle cx="399.9" cy="132.8" r="0.62"/>
<circle cx="395.8" cy="137.7" r="0.58"/>
<circle cx="393.8" cy="137.9" r="0.64"/>
<circle cx="397.5" cy="135.7" r="0.62"/>
</g>
</g>
<rect x="382.4" y="124.5" width="27.1" height="21.7" fill="none" stroke="#d2d2d2" stroke-width="0.5"/>
<line x1="383.5" y1="127" x2="383.5" y2="140" stroke="#111" stroke-width="0.9"/>
<line x1="383.5" y1="140" x2="383.5" y2="146.2" stroke="#555" stroke-width="0.8"/>
<line x1="382.4" y1="146.2" x2="382.4" y2="147.2" stroke="#aaa" stroke-width="0.5"/>
<line x1="381.4" y1="124.5" x2="382.4" y2="124.5" stroke="#aaa" stroke-width="0.5"/>
<line x1="389.17" y1="146.2" x2="389.17" y2="147.2" stroke="#aaa" stroke-width="0.5"/>
<line x1="381.4" y1="129.93" x2="382.4" y2="129.93" stroke="#aaa" stroke-width="0.5"/>
<line x1="395.95" y1="146.2" x2="395.95" y2="147.2" stroke="#aaa" stroke-width="0.5"/>
<line x1="381.4" y1="135.35" x2="382.4" y2="135.35" stroke="#aaa" stroke-width="0.5"/>
<line x1="402.72" y1="146.2" x2="402.72" y2="147.2" stroke="#aaa" stroke-width="0.5"/>
<line x1="381.4" y1="140.78" x2="382.4" y2="140.78" stroke="#aaa" stroke-width="0.5"/>
<line x1="409.5" y1="146.2" x2="409.5" y2="147.2" stroke="#aaa" stroke-width="0.5"/>
<line x1="381.4" y1="146.2" x2="382.4" y2="146.2" stroke="#aaa" stroke-width="0.5"/>
<text x="404.2" y="132.2" font-family="'Liberation Serif', serif" font-size="7.4" text-anchor="end" font-weight="normal" fill="#000" textLength="3.2" lengthAdjust="spacingAndGlyphs" stroke="#000" stroke-width="0.2">7</text>
<line x1="422.6" y1="135.1" x2="449.7" y2="135.1" stroke="#b0b0b0" stroke-width="0.5"/>
<line x1="439.6" y1="124.5" x2="439.6" y2="146.2" stroke="#d8d8d8" stroke-width="0.5"/>
<clipPath id="cp31"><rect x="422.6" y="124.5" width="27.1" height="21.7"/></clipPath>
<g clip-path="url(#cp31)">
<ellipse cx="426.2" cy="140.5" rx="3" ry="4.4" transform="rotate(0 426.2 140.5)" fill="#000" opacity="0.85" filter="url(#b1)"/>
<ellipse cx="429.5" cy="140" rx="7" ry="5.3" transform="rotate(0 429.5 140)" fill="#000" opacity="0.42" filter="url(#b2)"/>
<ellipse cx="440" cy="138.6" rx="3.4" ry="5" transform="rotate(0 440 138.6)" fill="#000" opacity="0.48" filter="url(#b1)"/>
<ellipse cx="438.5" cy="137" rx="6" ry="7" transform="rotate(0 438.5 137)" fill="#000" opacity="0.28" filter="url(#b2)"/>
<ellipse cx="436.5" cy="129.4" rx="4.8" ry="1.1" transform="rotate(-3 436.5 129.4)" fill="#000" opacity="0.5" filter="url(#b0)"/>
<g opacity="0.75" filter="url(#b3)">
<circle cx="441.4" cy="138.8" r="0.90"/>
<circle cx="434.4" cy="134.0" r="0.70"/>
<circle cx="442.8" cy="138.7" r="0.78"/>
<circle cx="447.3" cy="133.8" r="0.71"/>
<circle cx="438.9" cy="139.3" r="0.80"/>
<circle cx="440.4" cy="140.6" r="0.46"/>
<circle cx="444.2" cy="138.5" r="0.52"/>
<circle cx="441.2" cy="137.9" r="0.93"/>
<circle cx="440.4" cy="138.9" r="0.85"/>
<circle cx="440.2" cy="145.1" r="0.55"/>
<circle cx="444.6" cy="140.5" r="0.84"/>
<circle cx="442.8" cy="132.9" r="0.50"/>
<circle cx="437.0" cy="133.5" r="0.70"/>
<circle cx="442.0" cy="137.0" r="0.98"/>
<circle cx="439.9" cy="137.7" r="0.46"/>
<circle cx="437.0" cy="132.0" r="0.49"/>
<circle cx="438.3" cy="144.6" r="0.54"/>
<circle cx="442.1" cy="134.6" r="0.48"/>
<circle cx="437.5" cy="142.4" r="0.69"/>
<circle cx="439.3" cy="136.2" r="0.89"/>
<circle cx="437.4" cy="142.9" r="0.80"/>
<circle cx="437.6" cy="140.3" r="0.88"/>
<circle cx="444.6" cy="135.8" r="0.76"/>
<circle cx="439.7" cy="139.7" r="0.99"/>
<circle cx="438.5" cy="130.8" r="0.63"/>
<circle cx="433.9" cy="131.2" r="0.91"/>
<circle cx="438.1" cy="136.2" r="0.69"/>
<circle cx="442.1" cy="135.7" r="0.83"/>
<circle cx="435.2" cy="133.0" r="0.89"/>
<circle cx="440.0" cy="138.5" r="0.59"/>
<circle cx="436.7" cy="140.9" r="0.90"/>
<circle cx="440.6" cy="137.5" r="0.91"/>
<circle cx="442.1" cy="130.5" r="0.76"/>
<circle cx="439.2" cy="146.4" r="0.89"/>
<circle cx="437.5" cy="129.8" r="0.64"/>
<circle cx="443.1" cy="141.0" r="0.89"/>
<circle cx="441.4" cy="145.0" r="0.96"/>
<circle cx="440.4" cy="144.0" r="0.82"/>
<circle cx="438.1" cy="138.9" r="0.59"/>
<circle cx="440.0" cy="130.9" r="0.70"/>
</g>
<g opacity="0.52" filter="url(#b3)">
<circle cx="438.4" cy="143.3" r="0.76"/>
<circle cx="433.5" cy="144.9" r="0.81"/>
<circle cx="436.2" cy="135.4" r="0.64"/>
<circle cx="431.1" cy="137.4" r="0.53"/>
<circle cx="435.3" cy="145.3" r="0.60"/>
<circle cx="429.7" cy="137.2" r="0.66"/>
<circle cx="433.6" cy="140.1" r="0.85"/>
<circle cx="431.8" cy="140.5" r="0.70"/>
<circle cx="433.5" cy="136.4" r="0.69"/>
<circle cx="430.6" cy="143.5" r="0.46"/>
<circle cx="443.4" cy="141.9" r="0.80"/>
<circle cx="428.5" cy="139.5" r="0.55"/>
<circle cx="433.7" cy="134.3" r="0.83"/>
<circle cx="433.7" cy="130.7" r="0.84"/>
<circle cx="433.0" cy="140.3" r="0.53"/>
<circle cx="433.6" cy="140.7" r="0.47"/>
<circle cx="426.4" cy="135.8" r="0.63"/>
<circle cx="440.3" cy="135.8" r="0.48"/>
<circle cx="430.1" cy="136.4" r="0.50"/>
<circle cx="435.6" cy="138.1" r="0.68"/>
<circle cx="427.4" cy="130.3" r="0.72"/>
<circle cx="430.0" cy="142.1" r="0.51"/>
<circle cx="443.6" cy="136.0" r="0.54"/>
<circle cx="435.6" cy="139.8" r="0.59"/>
<circle cx="439.2" cy="133.4" r="0.78"/>
<circle cx="438.9" cy="141.3" r="0.73"/>
<circle cx="426.8" cy="128.6" r="0.47"/>
<circle cx="436.6" cy="145.0" r="0.83"/>
<circle cx="431.7" cy="135.6" r="0.69"/>
<circle cx="433.1" cy="136.9" r="0.58"/>
</g>
<g opacity="0.38" filter="url(#b3)">
<circle cx="435.9" cy="134.0" r="0.59"/>
<circle cx="437.4" cy="134.3" r="0.49"/>
<circle cx="435.7" cy="132.7" r="0.67"/>
<circle cx="436.4" cy="133.5" r="0.73"/>
<circle cx="437.7" cy="137.6" r="0.71"/>
<circle cx="437.7" cy="132.3" r="0.58"/>
<circle cx="443.5" cy="135.6" r="0.70"/>
<circle cx="433.0" cy="131.4" r="0.55"/>
<circle cx="438.0" cy="131.0" r="0.64"/>
<circle cx="437.8" cy="134.1" r="0.47"/>
</g>
</g>
<rect x="422.6" y="124.5" width="27.1" height="21.7" fill="none" stroke="#d2d2d2" stroke-width="0.5"/>
<line x1="423.7" y1="127" x2="423.7" y2="139" stroke="#111" stroke-width="0.9"/>
<line x1="423.7" y1="139" x2="423.7" y2="146.2" stroke="#555" stroke-width="0.8"/>
<line x1="422.6" y1="146.2" x2="422.6" y2="147.2" stroke="#aaa" stroke-width="0.5"/>
<line x1="421.6" y1="124.5" x2="422.6" y2="124.5" stroke="#aaa" stroke-width="0.5"/>
<line x1="429.38" y1="146.2" x2="429.38" y2="147.2" stroke="#aaa" stroke-width="0.5"/>
<line x1="421.6" y1="129.93" x2="422.6" y2="129.93" stroke="#aaa" stroke-width="0.5"/>
<line x1="436.15" y1="146.2" x2="436.15" y2="147.2" stroke="#aaa" stroke-width="0.5"/>
<line x1="421.6" y1="135.35" x2="422.6" y2="135.35" stroke="#aaa" stroke-width="0.5"/>
<line x1="442.93" y1="146.2" x2="442.93" y2="147.2" stroke="#aaa" stroke-width="0.5"/>
<line x1="421.6" y1="140.78" x2="422.6" y2="140.78" stroke="#aaa" stroke-width="0.5"/>
<line x1="449.7" y1="146.2" x2="449.7" y2="147.2" stroke="#aaa" stroke-width="0.5"/>
<line x1="421.6" y1="146.2" x2="422.6" y2="146.2" stroke="#aaa" stroke-width="0.5"/>
<text x="450.3" y="132.2" font-family="'Liberation Serif', serif" font-size="7.4" text-anchor="end" font-weight="normal" fill="#000" textLength="6.3" lengthAdjust="spacingAndGlyphs" stroke="#000" stroke-width="0.2">19</text>
<line x1="464.2" y1="135.1" x2="491.3" y2="135.1" stroke="#b0b0b0" stroke-width="0.5"/>
<line x1="481.2" y1="124.5" x2="481.2" y2="146.2" stroke="#d8d8d8" stroke-width="0.5"/>
<clipPath id="cp32"><rect x="464.2" y="124.5" width="27.1" height="21.7"/></clipPath>
<g clip-path="url(#cp32)">
<ellipse cx="467.7" cy="141" rx="3.3" ry="3.6" transform="rotate(0 467.7 141)" fill="#000" opacity="0.92" filter="url(#b1)"/>
<ellipse cx="469.5" cy="140" rx="6" ry="5" transform="rotate(-20 469.5 140)" fill="#000" opacity="0.45" filter="url(#b2)"/>
<ellipse cx="476.7" cy="141" rx="3.6" ry="2.8" transform="rotate(0 476.7 141)" fill="#000" opacity="0.58" filter="url(#b1)"/>
<ellipse cx="475" cy="137" rx="7" ry="5.5" transform="rotate(-35 475 137)" fill="#000" opacity="0.17" filter="url(#b2)"/>
<ellipse cx="476" cy="131.5" rx="5" ry="1" transform="rotate(-25 476 131.5)" fill="#000" opacity="0.12" filter="url(#b0)"/>
<g opacity="0.6" filter="url(#b3)">
<circle cx="475.6" cy="137.0" r="0.52"/>
<circle cx="478.2" cy="138.9" r="0.66"/>
<circle cx="477.9" cy="142.3" r="0.87"/>
<circle cx="475.5" cy="142.0" r="0.70"/>
<circle cx="473.6" cy="146.0" r="0.51"/>
<circle cx="477.6" cy="140.4" r="0.90"/>
<circle cx="475.4" cy="138.8" r="0.69"/>
<circle cx="475.9" cy="142.6" r="0.55"/>
<circle cx="470.0" cy="147.0" r="0.95"/>
<circle cx="477.8" cy="139.9" r="0.59"/>
<circle cx="477.4" cy="139.9" r="0.81"/>
<circle cx="474.1" cy="148.0" r="0.46"/>
<circle cx="477.5" cy="138.1" r="0.52"/>
<circle cx="482.5" cy="140.6" r="0.71"/>
<circle cx="477.8" cy="143.3" r="0.91"/>
<circle cx="477.3" cy="144.1" r="0.52"/>
<circle cx="478.8" cy="144.8" r="0.81"/>
<circle cx="476.9" cy="141.6" r="0.49"/>
<circle cx="473.6" cy="138.4" r="0.59"/>
<circle cx="477.7" cy="144.2" r="0.80"/>
<circle cx="478.1" cy="137.1" r="0.55"/>
<circle cx="481.3" cy="142.3" r="0.65"/>
<circle cx="476.3" cy="139.6" r="0.86"/>
<circle cx="473.4" cy="145.1" r="0.88"/>
<circle cx="475.9" cy="140.5" r="0.91"/>
<circle cx="470.1" cy="141.3" r="0.58"/>
</g>
<g opacity="0.33" filter="url(#b3)">
<circle cx="477.3" cy="141.6" r="0.56"/>
<circle cx="476.2" cy="138.4" r="0.63"/>
<circle cx="479.4" cy="135.6" r="0.58"/>
<circle cx="471.7" cy="135.3" r="0.66"/>
<circle cx="477.7" cy="129.1" r="0.55"/>
<circle cx="472.9" cy="132.2" r="0.68"/>
<circle cx="482.5" cy="138.2" r="0.74"/>
<circle cx="468.6" cy="135.6" r="0.61"/>
<circle cx="473.1" cy="135.3" r="0.74"/>
<circle cx="474.5" cy="137.7" r="0.48"/>
<circle cx="474.0" cy="142.0" r="0.46"/>
<circle cx="479.7" cy="138.6" r="0.51"/>
<circle cx="480.0" cy="136.0" r="0.62"/>
<circle cx="467.1" cy="134.7" r="0.48"/>
<circle cx="478.9" cy="131.4" r="0.46"/>
<circle cx="477.8" cy="138.4" r="0.60"/>
<circle cx="473.6" cy="137.3" r="0.57"/>
<circle cx="477.9" cy="139.1" r="0.71"/>
<circle cx="477.5" cy="139.1" r="0.67"/>
<circle cx="478.3" cy="141.1" r="0.73"/>
</g>
<g opacity="0.45" filter="url(#b3)">
<circle cx="467.6" cy="143.4" r="0.79"/>
<circle cx="467.0" cy="140.4" r="0.83"/>
<circle cx="470.5" cy="137.9" r="0.55"/>
<circle cx="468.4" cy="144.2" r="0.84"/>
<circle cx="472.2" cy="133.7" r="0.78"/>
<circle cx="470.6" cy="140.1" r="0.66"/>
<circle cx="476.8" cy="138.9" r="0.55"/>
<circle cx="466.3" cy="143.3" r="0.60"/>
<circle cx="468.9" cy="140.7" r="0.62"/>
<circle cx="469.4" cy="141.0" r="0.51"/>
<circle cx="475.1" cy="139.9" r="0.82"/>
<circle cx="466.3" cy="136.3" r="0.80"/>
<circle cx="470.6" cy="140.4" r="0.71"/>
<circle cx="469.6" cy="146.2" r="0.56"/>
</g>
</g>
<rect x="464.2" y="124.5" width="27.1" height="21.7" fill="none" stroke="#d2d2d2" stroke-width="0.5"/>
<line x1="465.3" y1="126" x2="465.3" y2="140" stroke="#111" stroke-width="0.9"/>
<line x1="465.3" y1="140" x2="465.3" y2="146.2" stroke="#555" stroke-width="0.8"/>
<line x1="464.2" y1="146.2" x2="464.2" y2="147.2" stroke="#aaa" stroke-width="0.5"/>
<line x1="463.2" y1="124.5" x2="464.2" y2="124.5" stroke="#aaa" stroke-width="0.5"/>
<line x1="470.97" y1="146.2" x2="470.97" y2="147.2" stroke="#aaa" stroke-width="0.5"/>
<line x1="463.2" y1="129.93" x2="464.2" y2="129.93" stroke="#aaa" stroke-width="0.5"/>
<line x1="477.75" y1="146.2" x2="477.75" y2="147.2" stroke="#aaa" stroke-width="0.5"/>
<line x1="463.2" y1="135.35" x2="464.2" y2="135.35" stroke="#aaa" stroke-width="0.5"/>
<line x1="484.52" y1="146.2" x2="484.52" y2="147.2" stroke="#aaa" stroke-width="0.5"/>
<line x1="463.2" y1="140.78" x2="464.2" y2="140.78" stroke="#aaa" stroke-width="0.5"/>
<line x1="491.3" y1="146.2" x2="491.3" y2="147.2" stroke="#aaa" stroke-width="0.5"/>
<line x1="463.2" y1="146.2" x2="464.2" y2="146.2" stroke="#aaa" stroke-width="0.5"/>
<text x="490.2" y="132.2" font-family="'Liberation Serif', serif" font-size="7.4" text-anchor="end" font-weight="normal" fill="#000" textLength="6.3" lengthAdjust="spacingAndGlyphs" stroke="#000" stroke-width="0.2">59</text>
</g>
</svg>
</body></html>
